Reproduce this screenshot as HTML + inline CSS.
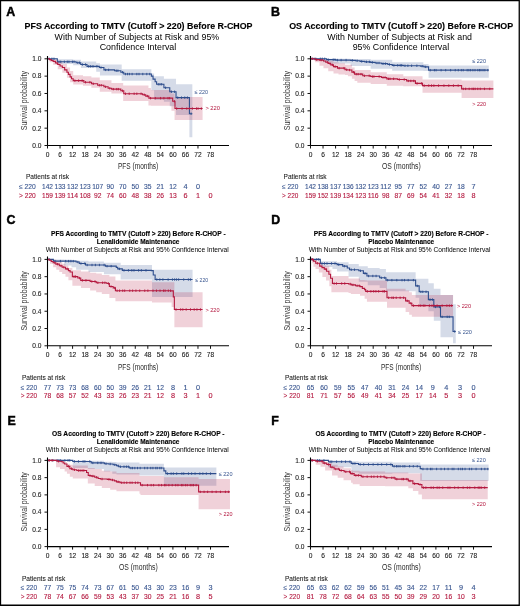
<!DOCTYPE html>
<html><head><meta charset="utf-8"><style>
html,body{margin:0;padding:0;background:#fff;}
svg{display:block;font-family:"Liberation Sans",sans-serif;will-change:transform;}
</style></head><body>
<svg width="520" height="606" viewBox="0 0 520 606" font-family="Liberation Sans, sans-serif"><rect x="0" y="0" width="520" height="606" fill="#fff"/>
<text x="6.20" y="15.90" font-size="12.4" fill="#000" font-weight="bold" text-anchor="start" stroke="#000" stroke-width="0.45">A</text>
<text x="24.60" y="29.30" font-size="8.6" fill="#000" font-weight="bold" text-anchor="start" textLength="227.90" lengthAdjust="spacingAndGlyphs" stroke="#000" stroke-width="0.12">PFS According to TMTV (Cutoff &gt; 220) Before R-CHOP</text>
<text x="54.60" y="40.00" font-size="8.6" fill="#000" font-weight="normal" text-anchor="start" textLength="164.60" lengthAdjust="spacingAndGlyphs">With Number of Subjects at Risk and 95%</text>
<text x="99.70" y="49.60" font-size="8.6" fill="#000" font-weight="normal" text-anchor="start" textLength="76.60" lengthAdjust="spacingAndGlyphs">Confidence Interval</text>
<path d="M47.50,58.80 V58.80 H57.32 V59.23 H73.21 V59.67 H80.94 V61.40 H96.20 V63.14 H99.96 V64.61 H121.69 V69.20 H151.37 V73.54 H154.09 V76.14 H163.91 V78.74 H169.76 V78.74 H176.03 V84.29 H189.41 V84.29 H192.34 V137.26 H189.41 V114.89 H176.03 V106.31 H169.76 V101.63 H163.91 V99.90 H154.09 V90.27 H151.37 V80.82 H121.69 V75.62 H99.96 V71.80 H96.20 V68.08 H80.94 V65.30 H73.21 V64.00 H57.32 V60.10 H47.50 Z" fill="#2d4d8c" fill-opacity="0.2"/>
<path d="M47.50,58.80 V58.80 H49.59 V59.23 H53.14 V59.67 H57.74 V61.40 H62.34 V64.00 H66.94 V67.47 H70.07 V70.94 H73.21 V75.27 H83.03 V76.14 H91.39 V77.44 H99.75 V80.21 H111.45 V83.08 H123.16 V85.42 H148.45 V87.93 H150.95 V90.10 H171.44 V93.48 H174.57 V97.03 H202.58 V120.10 H174.57 V110.82 H171.44 V105.70 H150.95 V105.62 H148.45 V101.02 H123.16 V93.48 H111.45 V91.75 H99.75 V87.84 H91.39 V85.68 H83.03 V84.38 H73.21 V82.21 H70.07 V77.87 H66.94 V72.67 H62.34 V69.20 H57.74 V64.87 H53.14 V62.27 H49.59 V59.67 H47.50 Z" fill="#b4193f" fill-opacity="0.2"/>
<path d="M47.50,58.80 V58.80 H57.32 V61.75 H76.13 V62.70 H80.73 V64.52 H87.00 V66.34 H99.33 V67.56 H103.93 V69.90 H114.59 V70.68 H120.86 V72.24 H123.78 V74.06 H151.37 V76.14 H153.04 V79.09 H155.13 V81.78 H156.60 V84.29 H163.91 V87.76 H169.76 V91.75 H176.03 V97.64 H189.41 V113.68 H192.34" stroke="#2d4d8c" stroke-width="1.1" fill="none" stroke-linejoin="miter"/>
<path d="M49.17,57.60V60.00M51.92,57.60V60.00M53.98,57.60V60.00M58.99,60.55V62.95M60.75,60.55V62.95M64.34,60.55V62.95M67.25,60.55V62.95M68.95,60.55V62.95M72.42,60.55V62.95M74.04,60.55V62.95M77.81,61.50V63.90M79.55,61.50V63.90M82.40,63.32V65.72M85.55,63.32V65.72M88.67,65.14V67.54M90.63,65.14V67.54M92.98,65.14V67.54M96.93,65.14V67.54M101.00,66.36V68.76M105.60,68.70V71.10M108.64,68.70V71.10M116.26,69.48V71.88M117.91,69.48V71.88M122.53,71.04V73.44M125.46,72.86V75.26M127.49,72.86V75.26M129.42,72.86V75.26M132.11,72.86V75.26M136.82,72.86V75.26M139.00,72.86V75.26M142.77,72.86V75.26M146.77,72.86V75.26M149.71,72.86V75.26M158.27,83.09V85.49M159.98,83.09V85.49M161.68,83.09V85.49M165.58,86.56V88.96M171.44,90.55V92.95M174.60,90.55V92.95M177.71,96.44V98.84M181.50,96.44V98.84M184.76,96.44V98.84M187.41,96.44V98.84M191.08,112.48V114.88" stroke="#2d4d8c" stroke-width="0.9" fill="none"/>
<path d="M47.50,58.80 V58.80 H49.59 V59.67 H51.26 V60.53 H53.14 V61.40 H55.44 V62.96 H57.74 V64.52 H60.04 V66.00 H62.34 V67.56 H64.64 V69.90 H66.94 V72.24 H68.40 V74.41 H70.07 V76.83 H71.53 V78.74 H73.21 V80.65 H83.87 V82.21 H91.60 V83.77 H97.66 V85.24 H103.93 V86.80 H108.11 V88.28 H111.66 V89.14 H120.86 V90.71 H123.78 V93.74 H142.59 V94.78 H145.73 V96.08 H148.87 V98.16 H172.69 V101.28 H174.99 V108.57 H202.58" stroke="#b4193f" stroke-width="1.1" fill="none" stroke-linejoin="miter"/>
<path d="M57.11,61.76V64.16M74.88,79.45V81.85M78.62,79.45V81.85M82.17,79.45V81.85M85.54,81.01V83.41M89.90,81.01V83.41M93.27,82.57V84.97M99.33,84.04V86.44M101.26,84.04V86.44M105.60,85.60V88.00M109.78,87.08V89.48M113.33,87.94V90.34M116.74,87.94V90.34M118.36,87.94V90.34M122.53,89.51V91.91M125.46,92.54V94.94M129.20,92.54V94.94M134.14,92.54V94.94M136.84,92.54V94.94M141.07,92.54V94.94M144.27,93.58V95.98M147.40,94.88V97.28M150.54,96.96V99.36M155.34,96.96V99.36M160.55,96.96V99.36M163.90,96.96V99.36M168.00,96.96V99.36M169.70,96.96V99.36M174.36,100.08V102.48M176.66,107.37V109.77M182.07,107.37V109.77M186.80,107.37V109.77M189.39,107.37V109.77M192.38,107.37V109.77M196.50,107.37V109.77M198.05,107.37V109.77M201.35,107.37V109.77" stroke="#b4193f" stroke-width="0.9" fill="none"/>
<path d="M47.50,55.90 V145.50 H229.00" stroke="#000" stroke-width="1.1" fill="none"/>
<text x="41.50" y="147.85" font-size="6.6" fill="#1a1a1a" font-weight="normal" text-anchor="end" stroke="#1a1a1a" stroke-width="0.1">0.0</text>
<text x="41.50" y="130.51" font-size="6.6" fill="#1a1a1a" font-weight="normal" text-anchor="end" stroke="#1a1a1a" stroke-width="0.1">0.2</text>
<text x="41.50" y="113.17" font-size="6.6" fill="#1a1a1a" font-weight="normal" text-anchor="end" stroke="#1a1a1a" stroke-width="0.1">0.4</text>
<text x="41.50" y="95.83" font-size="6.6" fill="#1a1a1a" font-weight="normal" text-anchor="end" stroke="#1a1a1a" stroke-width="0.1">0.6</text>
<text x="41.50" y="78.49" font-size="6.6" fill="#1a1a1a" font-weight="normal" text-anchor="end" stroke="#1a1a1a" stroke-width="0.1">0.8</text>
<text x="41.50" y="61.15" font-size="6.6" fill="#1a1a1a" font-weight="normal" text-anchor="end" stroke="#1a1a1a" stroke-width="0.1">1.0</text>
<text x="47.50" y="157.10" font-size="6.6" fill="#1a1a1a" font-weight="normal" text-anchor="middle" stroke="#1a1a1a" stroke-width="0.1">0</text>
<text x="60.04" y="157.10" font-size="6.6" fill="#1a1a1a" font-weight="normal" text-anchor="middle" stroke="#1a1a1a" stroke-width="0.1">6</text>
<text x="72.58" y="157.10" font-size="6.6" fill="#1a1a1a" font-weight="normal" text-anchor="middle" stroke="#1a1a1a" stroke-width="0.1">12</text>
<text x="85.12" y="157.10" font-size="6.6" fill="#1a1a1a" font-weight="normal" text-anchor="middle" stroke="#1a1a1a" stroke-width="0.1">18</text>
<text x="97.66" y="157.10" font-size="6.6" fill="#1a1a1a" font-weight="normal" text-anchor="middle" stroke="#1a1a1a" stroke-width="0.1">24</text>
<text x="110.20" y="157.10" font-size="6.6" fill="#1a1a1a" font-weight="normal" text-anchor="middle" stroke="#1a1a1a" stroke-width="0.1">30</text>
<text x="122.74" y="157.10" font-size="6.6" fill="#1a1a1a" font-weight="normal" text-anchor="middle" stroke="#1a1a1a" stroke-width="0.1">36</text>
<text x="135.28" y="157.10" font-size="6.6" fill="#1a1a1a" font-weight="normal" text-anchor="middle" stroke="#1a1a1a" stroke-width="0.1">42</text>
<text x="147.82" y="157.10" font-size="6.6" fill="#1a1a1a" font-weight="normal" text-anchor="middle" stroke="#1a1a1a" stroke-width="0.1">48</text>
<text x="160.36" y="157.10" font-size="6.6" fill="#1a1a1a" font-weight="normal" text-anchor="middle" stroke="#1a1a1a" stroke-width="0.1">54</text>
<text x="172.90" y="157.10" font-size="6.6" fill="#1a1a1a" font-weight="normal" text-anchor="middle" stroke="#1a1a1a" stroke-width="0.1">60</text>
<text x="185.44" y="157.10" font-size="6.6" fill="#1a1a1a" font-weight="normal" text-anchor="middle" stroke="#1a1a1a" stroke-width="0.1">66</text>
<text x="197.98" y="157.10" font-size="6.6" fill="#1a1a1a" font-weight="normal" text-anchor="middle" stroke="#1a1a1a" stroke-width="0.1">72</text>
<text x="210.52" y="157.10" font-size="6.6" fill="#1a1a1a" font-weight="normal" text-anchor="middle" stroke="#1a1a1a" stroke-width="0.1">78</text>
<path d="M44.50,145.50H47.50M44.50,128.16H47.50M44.50,110.82H47.50M44.50,93.48H47.50M44.50,76.14H47.50M44.50,58.80H47.50M47.50,145.50V148.50M60.04,145.50V148.50M72.58,145.50V148.50M85.12,145.50V148.50M97.66,145.50V148.50M110.20,145.50V148.50M122.74,145.50V148.50M135.28,145.50V148.50M147.82,145.50V148.50M160.36,145.50V148.50M172.90,145.50V148.50M185.44,145.50V148.50M197.98,145.50V148.50M210.52,145.50V148.50" stroke="#111" stroke-width="1" fill="none"/>
<text x="118.00" y="169.20" font-size="8.4" fill="#2a2a2a" font-weight="normal" text-anchor="start" textLength="40.30" lengthAdjust="spacingAndGlyphs">PFS (months)</text>
<text x="0" y="0" font-size="8.8" fill="#333" text-anchor="middle" textLength="59.3" lengthAdjust="spacingAndGlyphs" transform="translate(27.20,100.65) rotate(-90)">Survival probability</text>
<text x="194.40" y="93.90" font-size="6.0" fill="#38558f" font-weight="normal" text-anchor="start" textLength="13.60" lengthAdjust="spacingAndGlyphs">≤ 220</text>
<text x="205.40" y="110.20" font-size="6.0" fill="#b3173e" font-weight="normal" text-anchor="start" textLength="14.60" lengthAdjust="spacingAndGlyphs">&gt; 220</text>
<text x="26.00" y="179.40" font-size="6.6" fill="#222" font-weight="normal" text-anchor="start" textLength="43.00" lengthAdjust="spacingAndGlyphs" stroke="#222" stroke-width="0.08">Patients at risk</text>
<text x="19.00" y="188.80" font-size="7" fill="#38558f" font-weight="normal" text-anchor="start" textLength="16.80" lengthAdjust="spacingAndGlyphs" stroke="#38558f" stroke-width="0.1">≤ 220</text>
<text x="19.00" y="197.60" font-size="7" fill="#b3173e" font-weight="normal" text-anchor="start" textLength="16.80" lengthAdjust="spacingAndGlyphs" stroke="#b3173e" stroke-width="0.1">&gt; 220</text>
<text x="47.50" y="188.80" font-size="7.3" fill="#38558f" font-weight="normal" text-anchor="middle" textLength="10.95" lengthAdjust="spacingAndGlyphs" stroke="#38558f" stroke-width="0.12">142</text>
<text x="60.04" y="188.80" font-size="7.3" fill="#38558f" font-weight="normal" text-anchor="middle" textLength="10.95" lengthAdjust="spacingAndGlyphs" stroke="#38558f" stroke-width="0.12">133</text>
<text x="72.58" y="188.80" font-size="7.3" fill="#38558f" font-weight="normal" text-anchor="middle" textLength="10.95" lengthAdjust="spacingAndGlyphs" stroke="#38558f" stroke-width="0.12">132</text>
<text x="85.12" y="188.80" font-size="7.3" fill="#38558f" font-weight="normal" text-anchor="middle" textLength="10.95" lengthAdjust="spacingAndGlyphs" stroke="#38558f" stroke-width="0.12">123</text>
<text x="97.66" y="188.80" font-size="7.3" fill="#38558f" font-weight="normal" text-anchor="middle" textLength="10.95" lengthAdjust="spacingAndGlyphs" stroke="#38558f" stroke-width="0.12">107</text>
<text x="110.20" y="188.80" font-size="7.3" fill="#38558f" font-weight="normal" text-anchor="middle" textLength="7.50" lengthAdjust="spacingAndGlyphs" stroke="#38558f" stroke-width="0.12">90</text>
<text x="122.74" y="188.80" font-size="7.3" fill="#38558f" font-weight="normal" text-anchor="middle" textLength="7.50" lengthAdjust="spacingAndGlyphs" stroke="#38558f" stroke-width="0.12">70</text>
<text x="135.28" y="188.80" font-size="7.3" fill="#38558f" font-weight="normal" text-anchor="middle" textLength="7.50" lengthAdjust="spacingAndGlyphs" stroke="#38558f" stroke-width="0.12">50</text>
<text x="147.82" y="188.80" font-size="7.3" fill="#38558f" font-weight="normal" text-anchor="middle" textLength="7.50" lengthAdjust="spacingAndGlyphs" stroke="#38558f" stroke-width="0.12">35</text>
<text x="160.36" y="188.80" font-size="7.3" fill="#38558f" font-weight="normal" text-anchor="middle" textLength="7.50" lengthAdjust="spacingAndGlyphs" stroke="#38558f" stroke-width="0.12">21</text>
<text x="172.90" y="188.80" font-size="7.3" fill="#38558f" font-weight="normal" text-anchor="middle" textLength="7.50" lengthAdjust="spacingAndGlyphs" stroke="#38558f" stroke-width="0.12">12</text>
<text x="185.44" y="188.80" font-size="7.3" fill="#38558f" font-weight="normal" text-anchor="middle" textLength="4.05" lengthAdjust="spacingAndGlyphs" stroke="#38558f" stroke-width="0.12">4</text>
<text x="197.98" y="188.80" font-size="7.3" fill="#38558f" font-weight="normal" text-anchor="middle" textLength="4.05" lengthAdjust="spacingAndGlyphs" stroke="#38558f" stroke-width="0.12">0</text>
<text x="47.50" y="197.60" font-size="7.3" fill="#b3173e" font-weight="normal" text-anchor="middle" textLength="10.95" lengthAdjust="spacingAndGlyphs" stroke="#b3173e" stroke-width="0.12">159</text>
<text x="60.04" y="197.60" font-size="7.3" fill="#b3173e" font-weight="normal" text-anchor="middle" textLength="10.95" lengthAdjust="spacingAndGlyphs" stroke="#b3173e" stroke-width="0.12">139</text>
<text x="72.58" y="197.60" font-size="7.3" fill="#b3173e" font-weight="normal" text-anchor="middle" textLength="10.95" lengthAdjust="spacingAndGlyphs" stroke="#b3173e" stroke-width="0.12">114</text>
<text x="85.12" y="197.60" font-size="7.3" fill="#b3173e" font-weight="normal" text-anchor="middle" textLength="10.95" lengthAdjust="spacingAndGlyphs" stroke="#b3173e" stroke-width="0.12">108</text>
<text x="97.66" y="197.60" font-size="7.3" fill="#b3173e" font-weight="normal" text-anchor="middle" textLength="7.50" lengthAdjust="spacingAndGlyphs" stroke="#b3173e" stroke-width="0.12">92</text>
<text x="110.20" y="197.60" font-size="7.3" fill="#b3173e" font-weight="normal" text-anchor="middle" textLength="7.50" lengthAdjust="spacingAndGlyphs" stroke="#b3173e" stroke-width="0.12">74</text>
<text x="122.74" y="197.60" font-size="7.3" fill="#b3173e" font-weight="normal" text-anchor="middle" textLength="7.50" lengthAdjust="spacingAndGlyphs" stroke="#b3173e" stroke-width="0.12">60</text>
<text x="135.28" y="197.60" font-size="7.3" fill="#b3173e" font-weight="normal" text-anchor="middle" textLength="7.50" lengthAdjust="spacingAndGlyphs" stroke="#b3173e" stroke-width="0.12">48</text>
<text x="147.82" y="197.60" font-size="7.3" fill="#b3173e" font-weight="normal" text-anchor="middle" textLength="7.50" lengthAdjust="spacingAndGlyphs" stroke="#b3173e" stroke-width="0.12">38</text>
<text x="160.36" y="197.60" font-size="7.3" fill="#b3173e" font-weight="normal" text-anchor="middle" textLength="7.50" lengthAdjust="spacingAndGlyphs" stroke="#b3173e" stroke-width="0.12">26</text>
<text x="172.90" y="197.60" font-size="7.3" fill="#b3173e" font-weight="normal" text-anchor="middle" textLength="7.50" lengthAdjust="spacingAndGlyphs" stroke="#b3173e" stroke-width="0.12">13</text>
<text x="185.44" y="197.60" font-size="7.3" fill="#b3173e" font-weight="normal" text-anchor="middle" textLength="4.05" lengthAdjust="spacingAndGlyphs" stroke="#b3173e" stroke-width="0.12">6</text>
<text x="197.98" y="197.60" font-size="7.3" fill="#b3173e" font-weight="normal" text-anchor="middle" textLength="4.05" lengthAdjust="spacingAndGlyphs" stroke="#b3173e" stroke-width="0.12">1</text>
<text x="210.52" y="197.60" font-size="7.3" fill="#b3173e" font-weight="normal" text-anchor="middle" textLength="4.05" lengthAdjust="spacingAndGlyphs" stroke="#b3173e" stroke-width="0.12">0</text>
<text x="271.10" y="15.90" font-size="12.4" fill="#000" font-weight="bold" text-anchor="start" stroke="#000" stroke-width="0.45">B</text>
<text x="289.20" y="29.30" font-size="8.6" fill="#000" font-weight="bold" text-anchor="start" textLength="224.00" lengthAdjust="spacingAndGlyphs" stroke="#000" stroke-width="0.12">OS According to TMTV (Cutoff &gt; 220) Before R-CHOP</text>
<text x="327.30" y="40.00" font-size="8.6" fill="#000" font-weight="normal" text-anchor="start" textLength="144.70" lengthAdjust="spacingAndGlyphs">With Number of Subjects at Risk and</text>
<text x="352.70" y="49.60" font-size="8.6" fill="#000" font-weight="normal" text-anchor="start" textLength="96.50" lengthAdjust="spacingAndGlyphs">95% Confidence Interval</text>
<path d="M310.50,58.80 V58.80 H315.10 V58.80 H323.04 V58.80 H328.26 V58.80 H350.63 V58.97 H370.69 V59.67 H392.22 V62.27 H423.36 V64.00 H428.58 V65.48 H488.78 V77.87 H428.58 V70.94 H423.36 V70.76 H392.22 V68.77 H370.69 V66.08 H350.63 V63.57 H328.26 V62.27 H323.04 V60.53 H315.10 V59.23 H310.50 Z" fill="#2d4d8c" fill-opacity="0.2"/>
<path d="M310.50,58.80 V58.80 H315.10 V58.80 H319.49 V59.23 H323.46 V59.67 H328.26 V60.71 H333.49 V62.27 H338.51 V63.14 H344.99 V64.87 H347.91 V64.87 H351.88 V67.47 H354.60 V70.07 H357.32 V70.07 H370.69 V72.15 H386.78 V74.15 H403.30 V76.14 H422.52 V79.61 H461.61 V80.47 H493.38 V97.99 H461.61 V92.87 H422.52 V86.28 H403.30 V85.68 H386.78 V84.12 H370.69 V82.64 H357.32 V80.91 H354.60 V78.74 H351.88 V76.14 H347.91 V75.10 H344.99 V74.41 H338.51 V73.54 H333.49 V71.20 H328.26 V68.34 H323.46 V65.74 H319.49 V62.27 H315.10 V59.67 H310.50 Z" fill="#b4193f" fill-opacity="0.2"/>
<path d="M310.50,58.80 V58.80 H326.59 V59.67 H335.79 V60.10 H350.63 V60.36 H355.44 V60.71 H360.03 V61.40 H364.84 V61.83 H370.69 V62.35 H375.29 V62.96 H381.35 V63.66 H387.83 V64.44 H392.22 V65.39 H403.30 V65.74 H420.43 V66.17 H423.99 V66.86 H428.58 V70.16 H488.78" stroke="#2d4d8c" stroke-width="1.1" fill="none" stroke-linejoin="miter"/>
<path d="M312.17,57.60V60.00M314.10,57.60V60.00M315.80,57.60V60.00M320.31,57.60V60.00M322.29,57.60V60.00M324.73,57.60V60.00M328.26,58.47V60.87M333.19,58.47V60.87M334.97,58.47V60.87M337.46,58.90V61.30M341.11,58.90V61.30M346.08,58.90V61.30M352.30,59.16V61.56M357.11,59.51V61.91M361.70,60.20V62.60M366.51,60.63V63.03M369.40,60.63V63.03M372.36,61.15V63.55M376.96,61.76V64.16M379.02,61.76V64.16M383.02,62.46V64.86M385.41,62.46V64.86M389.50,63.24V65.64M393.89,64.19V66.59M397.69,64.19V66.59M400.20,64.19V66.59M401.68,64.19V66.59M404.97,64.54V66.94M407.90,64.54V66.94M411.61,64.54V66.94M416.86,64.54V66.94M422.11,64.97V67.37M425.66,65.66V68.06M430.26,68.96V71.36M434.41,68.96V71.36M436.08,68.96V71.36M441.12,68.96V71.36M445.68,68.96V71.36M450.61,68.96V71.36M455.24,68.96V71.36M458.27,68.96V71.36M461.31,68.96V71.36M463.19,68.96V71.36M467.17,68.96V71.36M468.88,68.96V71.36M470.61,68.96V71.36M472.90,68.96V71.36M475.01,68.96V71.36M477.82,68.96V71.36M479.49,68.96V71.36M480.96,68.96V71.36M483.02,68.96V71.36M484.89,68.96V71.36M487.80,68.96V71.36" stroke="#2d4d8c" stroke-width="0.9" fill="none"/>
<path d="M310.50,58.80 V58.80 H315.10 V59.67 H319.49 V60.10 H323.46 V60.97 H325.76 V62.27 H328.26 V63.48 H330.77 V64.87 H333.49 V66.60 H337.46 V68.16 H344.99 V69.72 H347.91 V70.07 H351.88 V72.15 H354.60 V74.15 H362.75 V75.79 H370.69 V76.57 H381.35 V77.44 H386.78 V78.83 H397.65 V79.52 H406.64 V80.91 H415.42 V83.42 H422.52 V85.59 H461.61 V88.88 H493.38" stroke="#b4193f" stroke-width="1.1" fill="none" stroke-linejoin="miter"/>
<path d="M312.17,57.60V60.00M316.77,58.47V60.87M321.16,58.90V61.30M327.43,61.07V63.47M329.94,62.28V64.68M332.44,63.67V66.07M335.16,65.40V67.80M339.13,66.96V69.36M343.97,66.96V69.36M346.66,68.52V70.92M349.58,68.87V71.27M353.55,70.95V73.35M356.27,72.95V75.35M358.14,72.95V75.35M360.96,72.95V75.35M364.42,74.59V76.99M369.18,74.59V76.99M372.36,75.37V77.77M373.92,75.37V77.77M379.16,75.37V77.77M383.02,76.24V78.64M385.07,76.24V78.64M388.46,77.63V80.03M390.03,77.63V80.03M393.59,77.63V80.03M399.32,78.32V80.72M404.22,78.32V80.72M408.31,79.71V82.11M410.81,79.71V82.11M413.73,79.71V82.11M417.09,82.22V84.62M421.62,82.22V84.62M424.20,84.39V86.79M428.75,84.39V86.79M431.52,84.39V86.79M433.87,84.39V86.79M438.56,84.39V86.79M443.93,84.39V86.79M448.78,84.39V86.79M453.45,84.39V86.79M458.16,84.39V86.79M463.28,87.68V90.08M465.64,87.68V90.08M469.16,87.68V90.08M472.04,87.68V90.08M473.61,87.68V90.08M475.19,87.68V90.08M477.76,87.68V90.08M480.25,87.68V90.08M484.47,87.68V90.08M489.73,87.68V90.08" stroke="#b4193f" stroke-width="0.9" fill="none"/>
<path d="M310.50,55.90 V145.50 H492.00" stroke="#000" stroke-width="1.1" fill="none"/>
<text x="304.50" y="147.85" font-size="6.6" fill="#1a1a1a" font-weight="normal" text-anchor="end" stroke="#1a1a1a" stroke-width="0.1">0.0</text>
<text x="304.50" y="130.51" font-size="6.6" fill="#1a1a1a" font-weight="normal" text-anchor="end" stroke="#1a1a1a" stroke-width="0.1">0.2</text>
<text x="304.50" y="113.17" font-size="6.6" fill="#1a1a1a" font-weight="normal" text-anchor="end" stroke="#1a1a1a" stroke-width="0.1">0.4</text>
<text x="304.50" y="95.83" font-size="6.6" fill="#1a1a1a" font-weight="normal" text-anchor="end" stroke="#1a1a1a" stroke-width="0.1">0.6</text>
<text x="304.50" y="78.49" font-size="6.6" fill="#1a1a1a" font-weight="normal" text-anchor="end" stroke="#1a1a1a" stroke-width="0.1">0.8</text>
<text x="304.50" y="61.15" font-size="6.6" fill="#1a1a1a" font-weight="normal" text-anchor="end" stroke="#1a1a1a" stroke-width="0.1">1.0</text>
<text x="310.50" y="157.10" font-size="6.6" fill="#1a1a1a" font-weight="normal" text-anchor="middle" stroke="#1a1a1a" stroke-width="0.1">0</text>
<text x="323.04" y="157.10" font-size="6.6" fill="#1a1a1a" font-weight="normal" text-anchor="middle" stroke="#1a1a1a" stroke-width="0.1">6</text>
<text x="335.58" y="157.10" font-size="6.6" fill="#1a1a1a" font-weight="normal" text-anchor="middle" stroke="#1a1a1a" stroke-width="0.1">12</text>
<text x="348.12" y="157.10" font-size="6.6" fill="#1a1a1a" font-weight="normal" text-anchor="middle" stroke="#1a1a1a" stroke-width="0.1">18</text>
<text x="360.66" y="157.10" font-size="6.6" fill="#1a1a1a" font-weight="normal" text-anchor="middle" stroke="#1a1a1a" stroke-width="0.1">24</text>
<text x="373.20" y="157.10" font-size="6.6" fill="#1a1a1a" font-weight="normal" text-anchor="middle" stroke="#1a1a1a" stroke-width="0.1">30</text>
<text x="385.74" y="157.10" font-size="6.6" fill="#1a1a1a" font-weight="normal" text-anchor="middle" stroke="#1a1a1a" stroke-width="0.1">36</text>
<text x="398.28" y="157.10" font-size="6.6" fill="#1a1a1a" font-weight="normal" text-anchor="middle" stroke="#1a1a1a" stroke-width="0.1">42</text>
<text x="410.82" y="157.10" font-size="6.6" fill="#1a1a1a" font-weight="normal" text-anchor="middle" stroke="#1a1a1a" stroke-width="0.1">48</text>
<text x="423.36" y="157.10" font-size="6.6" fill="#1a1a1a" font-weight="normal" text-anchor="middle" stroke="#1a1a1a" stroke-width="0.1">54</text>
<text x="435.90" y="157.10" font-size="6.6" fill="#1a1a1a" font-weight="normal" text-anchor="middle" stroke="#1a1a1a" stroke-width="0.1">60</text>
<text x="448.44" y="157.10" font-size="6.6" fill="#1a1a1a" font-weight="normal" text-anchor="middle" stroke="#1a1a1a" stroke-width="0.1">66</text>
<text x="460.98" y="157.10" font-size="6.6" fill="#1a1a1a" font-weight="normal" text-anchor="middle" stroke="#1a1a1a" stroke-width="0.1">72</text>
<text x="473.52" y="157.10" font-size="6.6" fill="#1a1a1a" font-weight="normal" text-anchor="middle" stroke="#1a1a1a" stroke-width="0.1">78</text>
<path d="M307.50,145.50H310.50M307.50,128.16H310.50M307.50,110.82H310.50M307.50,93.48H310.50M307.50,76.14H310.50M307.50,58.80H310.50M310.50,145.50V148.50M323.04,145.50V148.50M335.58,145.50V148.50M348.12,145.50V148.50M360.66,145.50V148.50M373.20,145.50V148.50M385.74,145.50V148.50M398.28,145.50V148.50M410.82,145.50V148.50M423.36,145.50V148.50M435.90,145.50V148.50M448.44,145.50V148.50M460.98,145.50V148.50M473.52,145.50V148.50" stroke="#111" stroke-width="1" fill="none"/>
<text x="382.00" y="169.20" font-size="8.4" fill="#2a2a2a" font-weight="normal" text-anchor="start" textLength="38.70" lengthAdjust="spacingAndGlyphs">OS (months)</text>
<text x="0" y="0" font-size="8.8" fill="#333" text-anchor="middle" textLength="59.3" lengthAdjust="spacingAndGlyphs" transform="translate(290.20,100.65) rotate(-90)">Survival probability</text>
<text x="472.20" y="63.00" font-size="6.0" fill="#38558f" font-weight="normal" text-anchor="start" textLength="13.80" lengthAdjust="spacingAndGlyphs">≤ 220</text>
<text x="472.20" y="105.50" font-size="6.0" fill="#b3173e" font-weight="normal" text-anchor="start" textLength="13.80" lengthAdjust="spacingAndGlyphs">&gt; 220</text>
<text x="283.60" y="179.40" font-size="6.6" fill="#222" font-weight="normal" text-anchor="start" textLength="42.90" lengthAdjust="spacingAndGlyphs" stroke="#222" stroke-width="0.08">Patients at risk</text>
<text x="282.10" y="188.80" font-size="7" fill="#38558f" font-weight="normal" text-anchor="start" textLength="16.20" lengthAdjust="spacingAndGlyphs" stroke="#38558f" stroke-width="0.1">≤ 220</text>
<text x="282.10" y="197.60" font-size="7" fill="#b3173e" font-weight="normal" text-anchor="start" textLength="16.20" lengthAdjust="spacingAndGlyphs" stroke="#b3173e" stroke-width="0.1">&gt; 220</text>
<text x="310.50" y="188.80" font-size="7.3" fill="#38558f" font-weight="normal" text-anchor="middle" textLength="10.95" lengthAdjust="spacingAndGlyphs" stroke="#38558f" stroke-width="0.12">142</text>
<text x="323.04" y="188.80" font-size="7.3" fill="#38558f" font-weight="normal" text-anchor="middle" textLength="10.95" lengthAdjust="spacingAndGlyphs" stroke="#38558f" stroke-width="0.12">138</text>
<text x="335.58" y="188.80" font-size="7.3" fill="#38558f" font-weight="normal" text-anchor="middle" textLength="10.95" lengthAdjust="spacingAndGlyphs" stroke="#38558f" stroke-width="0.12">137</text>
<text x="348.12" y="188.80" font-size="7.3" fill="#38558f" font-weight="normal" text-anchor="middle" textLength="10.95" lengthAdjust="spacingAndGlyphs" stroke="#38558f" stroke-width="0.12">136</text>
<text x="360.66" y="188.80" font-size="7.3" fill="#38558f" font-weight="normal" text-anchor="middle" textLength="10.95" lengthAdjust="spacingAndGlyphs" stroke="#38558f" stroke-width="0.12">132</text>
<text x="373.20" y="188.80" font-size="7.3" fill="#38558f" font-weight="normal" text-anchor="middle" textLength="10.95" lengthAdjust="spacingAndGlyphs" stroke="#38558f" stroke-width="0.12">123</text>
<text x="385.74" y="188.80" font-size="7.3" fill="#38558f" font-weight="normal" text-anchor="middle" textLength="10.95" lengthAdjust="spacingAndGlyphs" stroke="#38558f" stroke-width="0.12">112</text>
<text x="398.28" y="188.80" font-size="7.3" fill="#38558f" font-weight="normal" text-anchor="middle" textLength="7.50" lengthAdjust="spacingAndGlyphs" stroke="#38558f" stroke-width="0.12">95</text>
<text x="410.82" y="188.80" font-size="7.3" fill="#38558f" font-weight="normal" text-anchor="middle" textLength="7.50" lengthAdjust="spacingAndGlyphs" stroke="#38558f" stroke-width="0.12">77</text>
<text x="423.36" y="188.80" font-size="7.3" fill="#38558f" font-weight="normal" text-anchor="middle" textLength="7.50" lengthAdjust="spacingAndGlyphs" stroke="#38558f" stroke-width="0.12">52</text>
<text x="435.90" y="188.80" font-size="7.3" fill="#38558f" font-weight="normal" text-anchor="middle" textLength="7.50" lengthAdjust="spacingAndGlyphs" stroke="#38558f" stroke-width="0.12">40</text>
<text x="448.44" y="188.80" font-size="7.3" fill="#38558f" font-weight="normal" text-anchor="middle" textLength="7.50" lengthAdjust="spacingAndGlyphs" stroke="#38558f" stroke-width="0.12">27</text>
<text x="460.98" y="188.80" font-size="7.3" fill="#38558f" font-weight="normal" text-anchor="middle" textLength="7.50" lengthAdjust="spacingAndGlyphs" stroke="#38558f" stroke-width="0.12">18</text>
<text x="473.52" y="188.80" font-size="7.3" fill="#38558f" font-weight="normal" text-anchor="middle" textLength="4.05" lengthAdjust="spacingAndGlyphs" stroke="#38558f" stroke-width="0.12">7</text>
<text x="310.50" y="197.60" font-size="7.3" fill="#b3173e" font-weight="normal" text-anchor="middle" textLength="10.95" lengthAdjust="spacingAndGlyphs" stroke="#b3173e" stroke-width="0.12">159</text>
<text x="323.04" y="197.60" font-size="7.3" fill="#b3173e" font-weight="normal" text-anchor="middle" textLength="10.95" lengthAdjust="spacingAndGlyphs" stroke="#b3173e" stroke-width="0.12">152</text>
<text x="335.58" y="197.60" font-size="7.3" fill="#b3173e" font-weight="normal" text-anchor="middle" textLength="10.95" lengthAdjust="spacingAndGlyphs" stroke="#b3173e" stroke-width="0.12">139</text>
<text x="348.12" y="197.60" font-size="7.3" fill="#b3173e" font-weight="normal" text-anchor="middle" textLength="10.95" lengthAdjust="spacingAndGlyphs" stroke="#b3173e" stroke-width="0.12">134</text>
<text x="360.66" y="197.60" font-size="7.3" fill="#b3173e" font-weight="normal" text-anchor="middle" textLength="10.95" lengthAdjust="spacingAndGlyphs" stroke="#b3173e" stroke-width="0.12">123</text>
<text x="373.20" y="197.60" font-size="7.3" fill="#b3173e" font-weight="normal" text-anchor="middle" textLength="10.95" lengthAdjust="spacingAndGlyphs" stroke="#b3173e" stroke-width="0.12">116</text>
<text x="385.74" y="197.60" font-size="7.3" fill="#b3173e" font-weight="normal" text-anchor="middle" textLength="7.50" lengthAdjust="spacingAndGlyphs" stroke="#b3173e" stroke-width="0.12">98</text>
<text x="398.28" y="197.60" font-size="7.3" fill="#b3173e" font-weight="normal" text-anchor="middle" textLength="7.50" lengthAdjust="spacingAndGlyphs" stroke="#b3173e" stroke-width="0.12">87</text>
<text x="410.82" y="197.60" font-size="7.3" fill="#b3173e" font-weight="normal" text-anchor="middle" textLength="7.50" lengthAdjust="spacingAndGlyphs" stroke="#b3173e" stroke-width="0.12">69</text>
<text x="423.36" y="197.60" font-size="7.3" fill="#b3173e" font-weight="normal" text-anchor="middle" textLength="7.50" lengthAdjust="spacingAndGlyphs" stroke="#b3173e" stroke-width="0.12">54</text>
<text x="435.90" y="197.60" font-size="7.3" fill="#b3173e" font-weight="normal" text-anchor="middle" textLength="7.50" lengthAdjust="spacingAndGlyphs" stroke="#b3173e" stroke-width="0.12">41</text>
<text x="448.44" y="197.60" font-size="7.3" fill="#b3173e" font-weight="normal" text-anchor="middle" textLength="7.50" lengthAdjust="spacingAndGlyphs" stroke="#b3173e" stroke-width="0.12">32</text>
<text x="460.98" y="197.60" font-size="7.3" fill="#b3173e" font-weight="normal" text-anchor="middle" textLength="7.50" lengthAdjust="spacingAndGlyphs" stroke="#b3173e" stroke-width="0.12">18</text>
<text x="473.52" y="197.60" font-size="7.3" fill="#b3173e" font-weight="normal" text-anchor="middle" textLength="4.05" lengthAdjust="spacingAndGlyphs" stroke="#b3173e" stroke-width="0.12">8</text>
<text x="6.60" y="224.30" font-size="12.4" fill="#000" font-weight="bold" text-anchor="start" stroke="#000" stroke-width="0.45">C</text>
<text x="51.00" y="235.80" font-size="6.5" fill="#000" font-weight="bold" text-anchor="start" textLength="174.60" lengthAdjust="spacingAndGlyphs" stroke="#000" stroke-width="0.12">PFS According to TMTV (Cutoff &gt; 220) Before R-CHOP -</text>
<text x="96.70" y="243.50" font-size="6.5" fill="#000" font-weight="bold" text-anchor="start" textLength="82.70" lengthAdjust="spacingAndGlyphs" stroke="#000" stroke-width="0.12">Lenalidomide Maintenance</text>
<text x="45.80" y="251.70" font-size="6.6" fill="#000" font-weight="normal" text-anchor="start" textLength="183.00" lengthAdjust="spacingAndGlyphs">With Number of Subjects at Risk and 95% Confidence Interval</text>
<path d="M47.50,259.40 V259.40 H53.35 V259.40 H64.22 V259.83 H71.53 V260.26 H76.13 V260.70 H88.46 V261.56 H103.93 V262.86 H120.65 V264.93 H152.00 V269.85 H192.55 V296.90 H152.00 V279.53 H120.65 V274.26 H103.93 V271.93 H88.46 V269.68 H76.13 V267.35 H71.53 V265.45 H64.22 V261.99 H53.35 V260.26 H47.50 Z" fill="#2d4d8c" fill-opacity="0.2"/>
<path d="M47.50,259.40 V259.40 H50.01 V259.40 H53.14 V259.83 H56.28 V261.13 H59.31 V261.99 H62.13 V263.72 H65.47 V265.45 H68.40 V268.04 H72.37 V270.37 H80.94 V271.50 H90.14 V272.79 H96.20 V273.48 H101.84 V274.95 H109.36 V276.59 H115.42 V280.48 H152.00 V282.30 H171.65 V282.30 H174.36 V292.32 H202.58 V327.14 H174.36 V306.92 H171.65 V302.60 H152.00 V301.13 H115.42 V298.11 H109.36 V293.96 H101.84 V292.23 H96.20 V290.42 H90.14 V287.91 H80.94 V285.75 H72.37 V280.14 H68.40 V276.68 H65.47 V274.09 H62.13 V271.93 H59.31 V269.77 H56.28 V267.26 H53.14 V263.72 H50.01 V260.26 H47.50 Z" fill="#b4193f" fill-opacity="0.2"/>
<path d="M47.50,259.40 V259.40 H53.35 V261.13 H76.13 V261.99 H79.27 V263.46 H85.54 V265.02 H105.39 V266.14 H116.26 V267.35 H117.72 V268.90 H122.32 V270.37 H151.37 V270.63 H153.25 V274.95 H155.13 V279.53 H192.55" stroke="#2d4d8c" stroke-width="1.1" fill="none" stroke-linejoin="miter"/>
<path d="M49.17,258.20V260.60M55.02,259.93V262.33M60.41,259.93V262.33M65.67,259.93V262.33M68.58,259.93V262.33M70.92,259.93V262.33M73.28,259.93V262.33M77.81,260.79V263.19M80.94,262.26V264.66M84.88,262.26V264.66M87.21,263.82V266.22M92.01,263.82V266.22M95.38,263.82V266.22M99.43,263.82V266.22M104.07,263.82V266.22M107.06,264.94V267.34M111.15,264.94V267.34M119.40,267.70V270.10M123.99,269.17V271.57M128.44,269.17V271.57M131.80,269.17V271.57M133.97,269.17V271.57M138.57,269.17V271.57M141.35,269.17V271.57M145.99,269.17V271.57M156.81,278.33V280.73M159.84,278.33V280.73M162.90,278.33V280.73M168.12,278.33V280.73M172.46,278.33V280.73M174.60,278.33V280.73M176.57,278.33V280.73M178.63,278.33V280.73M183.69,278.33V280.73M188.35,278.33V280.73M190.40,278.33V280.73" stroke="#2d4d8c" stroke-width="0.9" fill="none"/>
<path d="M47.50,259.40 V259.40 H49.17 V260.26 H51.26 V261.56 H53.14 V262.68 H55.86 V264.15 H59.31 V265.79 H62.13 V267.18 H65.47 V268.90 H68.40 V270.63 H70.07 V271.93 H72.37 V276.59 H77.81 V278.06 H80.73 V280.40 H90.14 V281.43 H96.20 V282.73 H106.86 V283.51 H109.36 V286.53 H113.13 V287.91 H115.42 V290.68 H171.65 V290.85 H173.32 V296.90 H174.36 V309.51 H202.58" stroke="#b4193f" stroke-width="1.1" fill="none" stroke-linejoin="miter"/>
<path d="M54.81,261.48V263.88M57.53,262.95V265.35M60.98,264.59V266.99M63.80,265.98V268.38M67.15,267.70V270.10M74.04,275.39V277.79M75.56,275.39V277.79M79.48,276.86V279.26M82.40,279.20V281.60M85.96,279.20V281.60M91.81,280.23V282.63M94.99,280.23V282.63M97.87,281.53V283.93M102.61,281.53V283.93M104.91,281.53V283.93M108.53,282.31V284.71M111.04,285.33V287.73M114.80,286.71V289.11M117.10,289.48V291.88M119.59,289.48V291.88M122.72,289.48V291.88M124.70,289.48V291.88M129.78,289.48V291.88M132.64,289.48V291.88M135.93,289.48V291.88M139.71,289.48V291.88M144.76,289.48V291.88M147.89,289.48V291.88M153.00,289.48V291.88M156.46,289.48V291.88M160.03,289.48V291.88M163.57,289.48V291.88M165.11,289.48V291.88M168.32,289.48V291.88M170.51,289.48V291.88M176.03,308.31V310.71M180.67,308.31V310.71M182.82,308.31V310.71M186.16,308.31V310.71M190.50,308.31V310.71M194.18,308.31V310.71M196.94,308.31V310.71M200.46,308.31V310.71" stroke="#b4193f" stroke-width="0.9" fill="none"/>
<path d="M47.50,256.50 V345.80 H229.00" stroke="#000" stroke-width="1.1" fill="none"/>
<text x="41.50" y="348.15" font-size="6.6" fill="#1a1a1a" font-weight="normal" text-anchor="end" stroke="#1a1a1a" stroke-width="0.1">0.0</text>
<text x="41.50" y="330.87" font-size="6.6" fill="#1a1a1a" font-weight="normal" text-anchor="end" stroke="#1a1a1a" stroke-width="0.1">0.2</text>
<text x="41.50" y="313.59" font-size="6.6" fill="#1a1a1a" font-weight="normal" text-anchor="end" stroke="#1a1a1a" stroke-width="0.1">0.4</text>
<text x="41.50" y="296.31" font-size="6.6" fill="#1a1a1a" font-weight="normal" text-anchor="end" stroke="#1a1a1a" stroke-width="0.1">0.6</text>
<text x="41.50" y="279.03" font-size="6.6" fill="#1a1a1a" font-weight="normal" text-anchor="end" stroke="#1a1a1a" stroke-width="0.1">0.8</text>
<text x="41.50" y="261.75" font-size="6.6" fill="#1a1a1a" font-weight="normal" text-anchor="end" stroke="#1a1a1a" stroke-width="0.1">1.0</text>
<text x="47.50" y="357.40" font-size="6.6" fill="#1a1a1a" font-weight="normal" text-anchor="middle" stroke="#1a1a1a" stroke-width="0.1">0</text>
<text x="60.04" y="357.40" font-size="6.6" fill="#1a1a1a" font-weight="normal" text-anchor="middle" stroke="#1a1a1a" stroke-width="0.1">6</text>
<text x="72.58" y="357.40" font-size="6.6" fill="#1a1a1a" font-weight="normal" text-anchor="middle" stroke="#1a1a1a" stroke-width="0.1">12</text>
<text x="85.12" y="357.40" font-size="6.6" fill="#1a1a1a" font-weight="normal" text-anchor="middle" stroke="#1a1a1a" stroke-width="0.1">18</text>
<text x="97.66" y="357.40" font-size="6.6" fill="#1a1a1a" font-weight="normal" text-anchor="middle" stroke="#1a1a1a" stroke-width="0.1">24</text>
<text x="110.20" y="357.40" font-size="6.6" fill="#1a1a1a" font-weight="normal" text-anchor="middle" stroke="#1a1a1a" stroke-width="0.1">30</text>
<text x="122.74" y="357.40" font-size="6.6" fill="#1a1a1a" font-weight="normal" text-anchor="middle" stroke="#1a1a1a" stroke-width="0.1">36</text>
<text x="135.28" y="357.40" font-size="6.6" fill="#1a1a1a" font-weight="normal" text-anchor="middle" stroke="#1a1a1a" stroke-width="0.1">42</text>
<text x="147.82" y="357.40" font-size="6.6" fill="#1a1a1a" font-weight="normal" text-anchor="middle" stroke="#1a1a1a" stroke-width="0.1">48</text>
<text x="160.36" y="357.40" font-size="6.6" fill="#1a1a1a" font-weight="normal" text-anchor="middle" stroke="#1a1a1a" stroke-width="0.1">54</text>
<text x="172.90" y="357.40" font-size="6.6" fill="#1a1a1a" font-weight="normal" text-anchor="middle" stroke="#1a1a1a" stroke-width="0.1">60</text>
<text x="185.44" y="357.40" font-size="6.6" fill="#1a1a1a" font-weight="normal" text-anchor="middle" stroke="#1a1a1a" stroke-width="0.1">66</text>
<text x="197.98" y="357.40" font-size="6.6" fill="#1a1a1a" font-weight="normal" text-anchor="middle" stroke="#1a1a1a" stroke-width="0.1">72</text>
<text x="210.52" y="357.40" font-size="6.6" fill="#1a1a1a" font-weight="normal" text-anchor="middle" stroke="#1a1a1a" stroke-width="0.1">78</text>
<path d="M44.50,345.80H47.50M44.50,328.52H47.50M44.50,311.24H47.50M44.50,293.96H47.50M44.50,276.68H47.50M44.50,259.40H47.50M47.50,345.80V348.80M60.04,345.80V348.80M72.58,345.80V348.80M85.12,345.80V348.80M97.66,345.80V348.80M110.20,345.80V348.80M122.74,345.80V348.80M135.28,345.80V348.80M147.82,345.80V348.80M160.36,345.80V348.80M172.90,345.80V348.80M185.44,345.80V348.80M197.98,345.80V348.80M210.52,345.80V348.80" stroke="#111" stroke-width="1" fill="none"/>
<text x="118.00" y="369.50" font-size="8.4" fill="#2a2a2a" font-weight="normal" text-anchor="start" textLength="40.30" lengthAdjust="spacingAndGlyphs">PFS (months)</text>
<text x="0" y="0" font-size="8.8" fill="#333" text-anchor="middle" textLength="59.3" lengthAdjust="spacingAndGlyphs" transform="translate(27.20,300.95) rotate(-90)">Survival probability</text>
<text x="195.30" y="281.80" font-size="6.0" fill="#38558f" font-weight="normal" text-anchor="start" textLength="12.80" lengthAdjust="spacingAndGlyphs">≤ 220</text>
<text x="205.40" y="311.60" font-size="6.0" fill="#b3173e" font-weight="normal" text-anchor="start" textLength="14.10" lengthAdjust="spacingAndGlyphs">&gt; 220</text>
<text x="21.90" y="380.20" font-size="6.6" fill="#222" font-weight="normal" text-anchor="start" textLength="43.30" lengthAdjust="spacingAndGlyphs" stroke="#222" stroke-width="0.08">Patients at risk</text>
<text x="20.80" y="389.60" font-size="7" fill="#38558f" font-weight="normal" text-anchor="start" textLength="16.30" lengthAdjust="spacingAndGlyphs" stroke="#38558f" stroke-width="0.1">≤ 220</text>
<text x="20.80" y="398.30" font-size="7" fill="#b3173e" font-weight="normal" text-anchor="start" textLength="16.30" lengthAdjust="spacingAndGlyphs" stroke="#b3173e" stroke-width="0.1">&gt; 220</text>
<text x="47.50" y="389.60" font-size="7.3" fill="#38558f" font-weight="normal" text-anchor="middle" textLength="7.50" lengthAdjust="spacingAndGlyphs" stroke="#38558f" stroke-width="0.12">77</text>
<text x="60.04" y="389.60" font-size="7.3" fill="#38558f" font-weight="normal" text-anchor="middle" textLength="7.50" lengthAdjust="spacingAndGlyphs" stroke="#38558f" stroke-width="0.12">73</text>
<text x="72.58" y="389.60" font-size="7.3" fill="#38558f" font-weight="normal" text-anchor="middle" textLength="7.50" lengthAdjust="spacingAndGlyphs" stroke="#38558f" stroke-width="0.12">73</text>
<text x="85.12" y="389.60" font-size="7.3" fill="#38558f" font-weight="normal" text-anchor="middle" textLength="7.50" lengthAdjust="spacingAndGlyphs" stroke="#38558f" stroke-width="0.12">68</text>
<text x="97.66" y="389.60" font-size="7.3" fill="#38558f" font-weight="normal" text-anchor="middle" textLength="7.50" lengthAdjust="spacingAndGlyphs" stroke="#38558f" stroke-width="0.12">60</text>
<text x="110.20" y="389.60" font-size="7.3" fill="#38558f" font-weight="normal" text-anchor="middle" textLength="7.50" lengthAdjust="spacingAndGlyphs" stroke="#38558f" stroke-width="0.12">50</text>
<text x="122.74" y="389.60" font-size="7.3" fill="#38558f" font-weight="normal" text-anchor="middle" textLength="7.50" lengthAdjust="spacingAndGlyphs" stroke="#38558f" stroke-width="0.12">39</text>
<text x="135.28" y="389.60" font-size="7.3" fill="#38558f" font-weight="normal" text-anchor="middle" textLength="7.50" lengthAdjust="spacingAndGlyphs" stroke="#38558f" stroke-width="0.12">26</text>
<text x="147.82" y="389.60" font-size="7.3" fill="#38558f" font-weight="normal" text-anchor="middle" textLength="7.50" lengthAdjust="spacingAndGlyphs" stroke="#38558f" stroke-width="0.12">21</text>
<text x="160.36" y="389.60" font-size="7.3" fill="#38558f" font-weight="normal" text-anchor="middle" textLength="7.50" lengthAdjust="spacingAndGlyphs" stroke="#38558f" stroke-width="0.12">12</text>
<text x="172.90" y="389.60" font-size="7.3" fill="#38558f" font-weight="normal" text-anchor="middle" textLength="4.05" lengthAdjust="spacingAndGlyphs" stroke="#38558f" stroke-width="0.12">8</text>
<text x="185.44" y="389.60" font-size="7.3" fill="#38558f" font-weight="normal" text-anchor="middle" textLength="4.05" lengthAdjust="spacingAndGlyphs" stroke="#38558f" stroke-width="0.12">1</text>
<text x="197.98" y="389.60" font-size="7.3" fill="#38558f" font-weight="normal" text-anchor="middle" textLength="4.05" lengthAdjust="spacingAndGlyphs" stroke="#38558f" stroke-width="0.12">0</text>
<text x="47.50" y="398.30" font-size="7.3" fill="#b3173e" font-weight="normal" text-anchor="middle" textLength="7.50" lengthAdjust="spacingAndGlyphs" stroke="#b3173e" stroke-width="0.12">78</text>
<text x="60.04" y="398.30" font-size="7.3" fill="#b3173e" font-weight="normal" text-anchor="middle" textLength="7.50" lengthAdjust="spacingAndGlyphs" stroke="#b3173e" stroke-width="0.12">68</text>
<text x="72.58" y="398.30" font-size="7.3" fill="#b3173e" font-weight="normal" text-anchor="middle" textLength="7.50" lengthAdjust="spacingAndGlyphs" stroke="#b3173e" stroke-width="0.12">57</text>
<text x="85.12" y="398.30" font-size="7.3" fill="#b3173e" font-weight="normal" text-anchor="middle" textLength="7.50" lengthAdjust="spacingAndGlyphs" stroke="#b3173e" stroke-width="0.12">52</text>
<text x="97.66" y="398.30" font-size="7.3" fill="#b3173e" font-weight="normal" text-anchor="middle" textLength="7.50" lengthAdjust="spacingAndGlyphs" stroke="#b3173e" stroke-width="0.12">43</text>
<text x="110.20" y="398.30" font-size="7.3" fill="#b3173e" font-weight="normal" text-anchor="middle" textLength="7.50" lengthAdjust="spacingAndGlyphs" stroke="#b3173e" stroke-width="0.12">33</text>
<text x="122.74" y="398.30" font-size="7.3" fill="#b3173e" font-weight="normal" text-anchor="middle" textLength="7.50" lengthAdjust="spacingAndGlyphs" stroke="#b3173e" stroke-width="0.12">26</text>
<text x="135.28" y="398.30" font-size="7.3" fill="#b3173e" font-weight="normal" text-anchor="middle" textLength="7.50" lengthAdjust="spacingAndGlyphs" stroke="#b3173e" stroke-width="0.12">23</text>
<text x="147.82" y="398.30" font-size="7.3" fill="#b3173e" font-weight="normal" text-anchor="middle" textLength="7.50" lengthAdjust="spacingAndGlyphs" stroke="#b3173e" stroke-width="0.12">21</text>
<text x="160.36" y="398.30" font-size="7.3" fill="#b3173e" font-weight="normal" text-anchor="middle" textLength="7.50" lengthAdjust="spacingAndGlyphs" stroke="#b3173e" stroke-width="0.12">12</text>
<text x="172.90" y="398.30" font-size="7.3" fill="#b3173e" font-weight="normal" text-anchor="middle" textLength="4.05" lengthAdjust="spacingAndGlyphs" stroke="#b3173e" stroke-width="0.12">8</text>
<text x="185.44" y="398.30" font-size="7.3" fill="#b3173e" font-weight="normal" text-anchor="middle" textLength="4.05" lengthAdjust="spacingAndGlyphs" stroke="#b3173e" stroke-width="0.12">3</text>
<text x="197.98" y="398.30" font-size="7.3" fill="#b3173e" font-weight="normal" text-anchor="middle" textLength="4.05" lengthAdjust="spacingAndGlyphs" stroke="#b3173e" stroke-width="0.12">1</text>
<text x="210.52" y="398.30" font-size="7.3" fill="#b3173e" font-weight="normal" text-anchor="middle" textLength="4.05" lengthAdjust="spacingAndGlyphs" stroke="#b3173e" stroke-width="0.12">0</text>
<text x="271.20" y="224.00" font-size="12.4" fill="#000" font-weight="bold" text-anchor="start" stroke="#000" stroke-width="0.45">D</text>
<text x="313.80" y="235.80" font-size="6.5" fill="#000" font-weight="bold" text-anchor="start" textLength="174.70" lengthAdjust="spacingAndGlyphs" stroke="#000" stroke-width="0.12">PFS According to TMTV (Cutoff &gt; 220) Before R-CHOP -</text>
<text x="368.30" y="243.50" font-size="6.5" fill="#000" font-weight="bold" text-anchor="start" textLength="65.90" lengthAdjust="spacingAndGlyphs" stroke="#000" stroke-width="0.12">Placebo Maintenance</text>
<text x="308.70" y="251.70" font-size="6.6" fill="#000" font-weight="normal" text-anchor="start" textLength="181.70" lengthAdjust="spacingAndGlyphs">With Number of Subjects at Risk and 95% Confidence Interval</text>
<path d="M310.50,259.40 V259.40 H319.70 V259.40 H320.95 V261.13 H332.44 V261.13 H337.04 V262.25 H348.54 V263.98 H358.78 V266.31 H367.77 V268.04 H379.68 V268.90 H385.95 V272.36 H415.63 V278.67 H419.18 V278.67 H428.38 V283.25 H433.81 V288.78 H440.50 V295.08 H453.04 V304.33 H455.75 V343.21 H453.04 V337.16 H440.50 V320.74 H433.81 V311.24 H428.38 V306.06 H419.18 V297.76 H415.63 V291.37 H385.95 V287.91 H379.68 V285.32 H367.77 V281.69 H358.78 V276.68 H348.54 V271.41 H337.04 V269.08 H332.44 V266.92 H320.95 V263.72 H319.70 V260.26 H310.50 Z" fill="#2d4d8c" fill-opacity="0.2"/>
<path d="M310.50,259.40 V259.40 H312.17 V259.40 H313.43 V260.26 H315.52 V261.13 H318.86 V262.86 H322.41 V265.45 H325.97 V266.31 H329.31 V269.77 H331.40 V275.99 H348.54 V278.41 H350.84 V278.41 H360.03 V279.96 H364.63 V280.14 H366.93 V280.48 H386.99 V288.78 H405.60 V290.50 H409.15 V292.23 H411.87 V295.08 H453.04 V316.86 H411.87 V314.70 H409.15 V312.10 H405.60 V307.78 H386.99 V301.74 H366.93 V298.71 H364.63 V295.69 H360.03 V293.96 H350.84 V293.10 H348.54 V292.23 H331.40 V286.36 H329.31 V280.57 H325.97 V277.11 H322.41 V272.53 H318.86 V269.08 H315.52 V266.74 H313.43 V263.29 H312.17 V260.26 H310.50 Z" fill="#b4193f" fill-opacity="0.2"/>
<path d="M310.50,259.40 V259.40 H320.32 V263.46 H337.04 V264.58 H342.69 V266.14 H347.28 V268.04 H349.58 V269.68 H358.78 V270.80 H363.38 V273.40 H366.93 V275.99 H379.68 V277.80 H385.95 V280.14 H415.63 V285.92 H419.18 V291.80 H428.38 V299.58 H433.81 V306.92 H440.50 V316.86 H453.04 V331.46 H455.75" stroke="#2d4d8c" stroke-width="1.1" fill="none" stroke-linejoin="miter"/>
<path d="M312.17,258.20V260.60M316.75,258.20V260.60M318.63,258.20V260.60M322.00,262.26V264.66M324.44,262.26V264.66M327.01,262.26V264.66M331.54,262.26V264.66M335.02,262.26V264.66M338.71,263.38V265.78M344.36,264.94V267.34M351.25,268.48V270.88M354.48,268.48V270.88M360.45,269.60V272.00M365.05,272.20V274.60M368.60,274.79V277.19M372.82,274.79V277.19M376.08,274.79V277.19M381.35,276.60V279.00M384.71,276.60V279.00M387.62,278.94V281.34M391.86,278.94V281.34M396.80,278.94V281.34M402.01,278.94V281.34M404.50,278.94V281.34M408.19,278.94V281.34M413.40,278.94V281.34M417.30,284.72V287.12M420.85,290.60V293.00M422.80,290.60V293.00M426.02,290.60V293.00M430.05,298.38V300.78M432.47,298.38V300.78M435.48,305.72V308.12M439.60,305.72V308.12M442.17,315.66V318.06M447.20,315.66V318.06M449.27,315.66V318.06M454.71,330.26V332.66" stroke="#2d4d8c" stroke-width="0.9" fill="none"/>
<path d="M310.50,259.40 V259.40 H313.43 V261.13 H315.73 V263.29 H319.70 V266.14 H322.00 V267.61 H324.29 V269.08 H326.59 V271.32 H328.89 V274.26 H330.56 V278.32 H332.44 V283.51 H348.54 V284.02 H351.25 V284.89 H355.44 V285.75 H360.03 V286.62 H362.33 V288.34 H364.63 V289.64 H365.68 V291.37 H386.99 V297.76 H405.60 V300.87 H409.15 V303.20 H411.87 V305.62 H453.04" stroke="#b4193f" stroke-width="1.1" fill="none" stroke-linejoin="miter"/>
<path d="M312.17,258.20V260.60M317.40,262.09V264.49M325.97,267.88V270.28M334.12,282.31V284.71M336.45,282.31V284.71M341.70,282.31V284.71M344.74,282.31V284.71M350.21,282.82V285.22M352.93,283.69V286.09M357.11,284.55V286.95M359.21,284.55V286.95M367.35,290.17V292.57M370.86,290.17V292.57M373.67,290.17V292.57M375.91,290.17V292.57M378.64,290.17V292.57M382.97,290.17V292.57M384.51,290.17V292.57M388.67,296.56V298.96M391.88,296.56V298.96M393.41,296.56V298.96M396.19,296.56V298.96M400.13,296.56V298.96M403.63,296.56V298.96M407.27,299.67V302.07M410.82,302.00V304.40M413.54,304.42V306.82M418.86,304.42V306.82M420.74,304.42V306.82M423.26,304.42V306.82M424.88,304.42V306.82M429.43,304.42V306.82M431.97,304.42V306.82M433.95,304.42V306.82M437.09,304.42V306.82M442.17,304.42V306.82M446.88,304.42V306.82M449.37,304.42V306.82M451.43,304.42V306.82" stroke="#b4193f" stroke-width="0.9" fill="none"/>
<path d="M310.50,256.50 V345.80 H492.00" stroke="#000" stroke-width="1.1" fill="none"/>
<text x="304.50" y="348.15" font-size="6.6" fill="#1a1a1a" font-weight="normal" text-anchor="end" stroke="#1a1a1a" stroke-width="0.1">0.0</text>
<text x="304.50" y="330.87" font-size="6.6" fill="#1a1a1a" font-weight="normal" text-anchor="end" stroke="#1a1a1a" stroke-width="0.1">0.2</text>
<text x="304.50" y="313.59" font-size="6.6" fill="#1a1a1a" font-weight="normal" text-anchor="end" stroke="#1a1a1a" stroke-width="0.1">0.4</text>
<text x="304.50" y="296.31" font-size="6.6" fill="#1a1a1a" font-weight="normal" text-anchor="end" stroke="#1a1a1a" stroke-width="0.1">0.6</text>
<text x="304.50" y="279.03" font-size="6.6" fill="#1a1a1a" font-weight="normal" text-anchor="end" stroke="#1a1a1a" stroke-width="0.1">0.8</text>
<text x="304.50" y="261.75" font-size="6.6" fill="#1a1a1a" font-weight="normal" text-anchor="end" stroke="#1a1a1a" stroke-width="0.1">1.0</text>
<text x="310.50" y="357.40" font-size="6.6" fill="#1a1a1a" font-weight="normal" text-anchor="middle" stroke="#1a1a1a" stroke-width="0.1">0</text>
<text x="323.04" y="357.40" font-size="6.6" fill="#1a1a1a" font-weight="normal" text-anchor="middle" stroke="#1a1a1a" stroke-width="0.1">6</text>
<text x="335.58" y="357.40" font-size="6.6" fill="#1a1a1a" font-weight="normal" text-anchor="middle" stroke="#1a1a1a" stroke-width="0.1">12</text>
<text x="348.12" y="357.40" font-size="6.6" fill="#1a1a1a" font-weight="normal" text-anchor="middle" stroke="#1a1a1a" stroke-width="0.1">18</text>
<text x="360.66" y="357.40" font-size="6.6" fill="#1a1a1a" font-weight="normal" text-anchor="middle" stroke="#1a1a1a" stroke-width="0.1">24</text>
<text x="373.20" y="357.40" font-size="6.6" fill="#1a1a1a" font-weight="normal" text-anchor="middle" stroke="#1a1a1a" stroke-width="0.1">30</text>
<text x="385.74" y="357.40" font-size="6.6" fill="#1a1a1a" font-weight="normal" text-anchor="middle" stroke="#1a1a1a" stroke-width="0.1">36</text>
<text x="398.28" y="357.40" font-size="6.6" fill="#1a1a1a" font-weight="normal" text-anchor="middle" stroke="#1a1a1a" stroke-width="0.1">42</text>
<text x="410.82" y="357.40" font-size="6.6" fill="#1a1a1a" font-weight="normal" text-anchor="middle" stroke="#1a1a1a" stroke-width="0.1">48</text>
<text x="423.36" y="357.40" font-size="6.6" fill="#1a1a1a" font-weight="normal" text-anchor="middle" stroke="#1a1a1a" stroke-width="0.1">54</text>
<text x="435.90" y="357.40" font-size="6.6" fill="#1a1a1a" font-weight="normal" text-anchor="middle" stroke="#1a1a1a" stroke-width="0.1">60</text>
<text x="448.44" y="357.40" font-size="6.6" fill="#1a1a1a" font-weight="normal" text-anchor="middle" stroke="#1a1a1a" stroke-width="0.1">66</text>
<text x="460.98" y="357.40" font-size="6.6" fill="#1a1a1a" font-weight="normal" text-anchor="middle" stroke="#1a1a1a" stroke-width="0.1">72</text>
<text x="473.52" y="357.40" font-size="6.6" fill="#1a1a1a" font-weight="normal" text-anchor="middle" stroke="#1a1a1a" stroke-width="0.1">78</text>
<path d="M307.50,345.80H310.50M307.50,328.52H310.50M307.50,311.24H310.50M307.50,293.96H310.50M307.50,276.68H310.50M307.50,259.40H310.50M310.50,345.80V348.80M323.04,345.80V348.80M335.58,345.80V348.80M348.12,345.80V348.80M360.66,345.80V348.80M373.20,345.80V348.80M385.74,345.80V348.80M398.28,345.80V348.80M410.82,345.80V348.80M423.36,345.80V348.80M435.90,345.80V348.80M448.44,345.80V348.80M460.98,345.80V348.80M473.52,345.80V348.80" stroke="#111" stroke-width="1" fill="none"/>
<text x="381.00" y="369.50" font-size="8.4" fill="#2a2a2a" font-weight="normal" text-anchor="start" textLength="40.30" lengthAdjust="spacingAndGlyphs">PFS (months)</text>
<text x="0" y="0" font-size="8.8" fill="#333" text-anchor="middle" textLength="59.3" lengthAdjust="spacingAndGlyphs" transform="translate(290.20,300.95) rotate(-90)">Survival probability</text>
<text x="456.90" y="308.30" font-size="6.0" fill="#b3173e" font-weight="normal" text-anchor="start" textLength="14.20" lengthAdjust="spacingAndGlyphs">&gt; 220</text>
<text x="458.00" y="333.50" font-size="6.0" fill="#38558f" font-weight="normal" text-anchor="start" textLength="14.00" lengthAdjust="spacingAndGlyphs">≤ 220</text>
<text x="285.00" y="380.00" font-size="6.6" fill="#222" font-weight="normal" text-anchor="start" textLength="42.70" lengthAdjust="spacingAndGlyphs" stroke="#222" stroke-width="0.08">Patients at risk</text>
<text x="283.60" y="389.60" font-size="7" fill="#38558f" font-weight="normal" text-anchor="start" textLength="16.40" lengthAdjust="spacingAndGlyphs" stroke="#38558f" stroke-width="0.1">≤ 220</text>
<text x="283.60" y="398.30" font-size="7" fill="#b3173e" font-weight="normal" text-anchor="start" textLength="16.40" lengthAdjust="spacingAndGlyphs" stroke="#b3173e" stroke-width="0.1">&gt; 220</text>
<text x="310.50" y="389.60" font-size="7.3" fill="#38558f" font-weight="normal" text-anchor="middle" textLength="7.50" lengthAdjust="spacingAndGlyphs" stroke="#38558f" stroke-width="0.12">65</text>
<text x="324.08" y="389.60" font-size="7.3" fill="#38558f" font-weight="normal" text-anchor="middle" textLength="7.50" lengthAdjust="spacingAndGlyphs" stroke="#38558f" stroke-width="0.12">60</text>
<text x="337.67" y="389.60" font-size="7.3" fill="#38558f" font-weight="normal" text-anchor="middle" textLength="7.50" lengthAdjust="spacingAndGlyphs" stroke="#38558f" stroke-width="0.12">59</text>
<text x="351.25" y="389.60" font-size="7.3" fill="#38558f" font-weight="normal" text-anchor="middle" textLength="7.50" lengthAdjust="spacingAndGlyphs" stroke="#38558f" stroke-width="0.12">55</text>
<text x="364.83" y="389.60" font-size="7.3" fill="#38558f" font-weight="normal" text-anchor="middle" textLength="7.50" lengthAdjust="spacingAndGlyphs" stroke="#38558f" stroke-width="0.12">47</text>
<text x="378.42" y="389.60" font-size="7.3" fill="#38558f" font-weight="normal" text-anchor="middle" textLength="7.50" lengthAdjust="spacingAndGlyphs" stroke="#38558f" stroke-width="0.12">40</text>
<text x="392.00" y="389.60" font-size="7.3" fill="#38558f" font-weight="normal" text-anchor="middle" textLength="7.50" lengthAdjust="spacingAndGlyphs" stroke="#38558f" stroke-width="0.12">31</text>
<text x="405.58" y="389.60" font-size="7.3" fill="#38558f" font-weight="normal" text-anchor="middle" textLength="7.50" lengthAdjust="spacingAndGlyphs" stroke="#38558f" stroke-width="0.12">24</text>
<text x="419.17" y="389.60" font-size="7.3" fill="#38558f" font-weight="normal" text-anchor="middle" textLength="7.50" lengthAdjust="spacingAndGlyphs" stroke="#38558f" stroke-width="0.12">14</text>
<text x="432.75" y="389.60" font-size="7.3" fill="#38558f" font-weight="normal" text-anchor="middle" textLength="4.05" lengthAdjust="spacingAndGlyphs" stroke="#38558f" stroke-width="0.12">9</text>
<text x="446.33" y="389.60" font-size="7.3" fill="#38558f" font-weight="normal" text-anchor="middle" textLength="4.05" lengthAdjust="spacingAndGlyphs" stroke="#38558f" stroke-width="0.12">4</text>
<text x="459.92" y="389.60" font-size="7.3" fill="#38558f" font-weight="normal" text-anchor="middle" textLength="4.05" lengthAdjust="spacingAndGlyphs" stroke="#38558f" stroke-width="0.12">3</text>
<text x="473.50" y="389.60" font-size="7.3" fill="#38558f" font-weight="normal" text-anchor="middle" textLength="4.05" lengthAdjust="spacingAndGlyphs" stroke="#38558f" stroke-width="0.12">0</text>
<text x="310.50" y="398.30" font-size="7.3" fill="#b3173e" font-weight="normal" text-anchor="middle" textLength="7.50" lengthAdjust="spacingAndGlyphs" stroke="#b3173e" stroke-width="0.12">81</text>
<text x="324.08" y="398.30" font-size="7.3" fill="#b3173e" font-weight="normal" text-anchor="middle" textLength="7.50" lengthAdjust="spacingAndGlyphs" stroke="#b3173e" stroke-width="0.12">71</text>
<text x="337.67" y="398.30" font-size="7.3" fill="#b3173e" font-weight="normal" text-anchor="middle" textLength="7.50" lengthAdjust="spacingAndGlyphs" stroke="#b3173e" stroke-width="0.12">57</text>
<text x="351.25" y="398.30" font-size="7.3" fill="#b3173e" font-weight="normal" text-anchor="middle" textLength="7.50" lengthAdjust="spacingAndGlyphs" stroke="#b3173e" stroke-width="0.12">56</text>
<text x="364.83" y="398.30" font-size="7.3" fill="#b3173e" font-weight="normal" text-anchor="middle" textLength="7.50" lengthAdjust="spacingAndGlyphs" stroke="#b3173e" stroke-width="0.12">49</text>
<text x="378.42" y="398.30" font-size="7.3" fill="#b3173e" font-weight="normal" text-anchor="middle" textLength="7.50" lengthAdjust="spacingAndGlyphs" stroke="#b3173e" stroke-width="0.12">41</text>
<text x="392.00" y="398.30" font-size="7.3" fill="#b3173e" font-weight="normal" text-anchor="middle" textLength="7.50" lengthAdjust="spacingAndGlyphs" stroke="#b3173e" stroke-width="0.12">34</text>
<text x="405.58" y="398.30" font-size="7.3" fill="#b3173e" font-weight="normal" text-anchor="middle" textLength="7.50" lengthAdjust="spacingAndGlyphs" stroke="#b3173e" stroke-width="0.12">25</text>
<text x="419.17" y="398.30" font-size="7.3" fill="#b3173e" font-weight="normal" text-anchor="middle" textLength="7.50" lengthAdjust="spacingAndGlyphs" stroke="#b3173e" stroke-width="0.12">17</text>
<text x="432.75" y="398.30" font-size="7.3" fill="#b3173e" font-weight="normal" text-anchor="middle" textLength="7.50" lengthAdjust="spacingAndGlyphs" stroke="#b3173e" stroke-width="0.12">14</text>
<text x="446.33" y="398.30" font-size="7.3" fill="#b3173e" font-weight="normal" text-anchor="middle" textLength="4.05" lengthAdjust="spacingAndGlyphs" stroke="#b3173e" stroke-width="0.12">5</text>
<text x="459.92" y="398.30" font-size="7.3" fill="#b3173e" font-weight="normal" text-anchor="middle" textLength="4.05" lengthAdjust="spacingAndGlyphs" stroke="#b3173e" stroke-width="0.12">3</text>
<text x="473.50" y="398.30" font-size="7.3" fill="#b3173e" font-weight="normal" text-anchor="middle" textLength="4.05" lengthAdjust="spacingAndGlyphs" stroke="#b3173e" stroke-width="0.12">0</text>
<text x="7.40" y="425.00" font-size="12.4" fill="#000" font-weight="bold" text-anchor="start" stroke="#000" stroke-width="0.45">E</text>
<text x="52.10" y="436.30" font-size="6.5" fill="#000" font-weight="bold" text-anchor="start" textLength="172.50" lengthAdjust="spacingAndGlyphs" stroke="#000" stroke-width="0.12">OS According to TMTV (Cutoff &gt; 220) Before R-CHOP -</text>
<text x="96.70" y="444.00" font-size="6.5" fill="#000" font-weight="bold" text-anchor="start" textLength="82.70" lengthAdjust="spacingAndGlyphs" stroke="#000" stroke-width="0.12">Lenalidomide Maintenance</text>
<text x="45.80" y="452.10" font-size="6.6" fill="#000" font-weight="normal" text-anchor="start" textLength="183.00" lengthAdjust="spacingAndGlyphs">With Number of Subjects at Risk and 95% Confidence Interval</text>
<path d="M47.50,460.40 V460.40 H72.79 V460.40 H87.84 V460.83 H103.93 V461.69 H112.29 V462.12 H116.47 V462.55 H139.46 V463.85 H163.91 V467.55 H216.37 V485.83 H163.91 V475.40 H139.46 V474.62 H116.47 V473.76 H112.29 V471.61 H103.93 V469.02 H87.84 V468.07 H72.79 V460.83 H47.50 Z" fill="#2d4d8c" fill-opacity="0.2"/>
<path d="M47.50,460.40 V460.40 H56.07 V460.40 H60.04 V460.83 H64.64 V462.12 H66.94 V463.85 H69.86 V464.71 H72.79 V465.57 H87.84 V468.07 H94.73 V469.02 H101.84 V470.74 H110.20 V471.52 H116.47 V472.90 H139.46 V475.92 H140.50 V475.92 H163.91 V477.21 H198.61 V479.11 H229.96 V509.28 H198.61 V494.97 H163.91 V494.97 H140.50 V493.67 H139.46 V491.17 H116.47 V489.71 H110.20 V487.98 H101.84 V485.92 H94.73 V483.59 H87.84 V478.50 H72.79 V476.78 H69.86 V473.85 H66.94 V471.61 H64.64 V469.02 H60.04 V467.30 H56.07 V461.26 H47.50 Z" fill="#b4193f" fill-opacity="0.2"/>
<path d="M47.50,460.40 V460.40 H72.79 V461.43 H91.18 V462.90 H104.35 V463.68 H108.53 V464.02 H113.13 V464.80 H116.47 V465.74 H118.77 V466.69 H129.22 V468.07 H163.91 V470.83 H165.79 V473.59 H216.37" stroke="#2d4d8c" stroke-width="1.1" fill="none" stroke-linejoin="miter"/>
<path d="M49.17,459.20V461.60M52.90,459.20V461.60M57.15,459.20V461.60M58.96,459.20V461.60M60.65,459.20V461.60M64.85,459.20V461.60M68.00,459.20V461.60M69.75,459.20V461.60M74.46,460.23V462.63M78.44,460.23V462.63M83.09,460.23V462.63M84.89,460.23V462.63M89.75,460.23V462.63M92.85,461.70V464.10M97.74,461.70V464.10M101.01,461.70V464.10M106.02,462.48V464.88M110.20,462.82V465.22M114.80,463.60V466.00M118.14,464.54V466.94M120.44,465.49V467.89M124.00,465.49V467.89M126.41,465.49V467.89M128.30,465.49V467.89M130.89,466.87V469.27M132.55,466.87V469.27M134.82,466.87V469.27M137.52,466.87V469.27M140.19,466.87V469.27M144.67,466.87V469.27M147.29,466.87V469.27M150.74,466.87V469.27M152.91,466.87V469.27M155.75,466.87V469.27M157.28,466.87V469.27M159.74,466.87V469.27M161.26,466.87V469.27M167.47,472.39V474.79M171.12,472.39V474.79M173.33,472.39V474.79M176.68,472.39V474.79M181.86,472.39V474.79M183.74,472.39V474.79M188.46,472.39V474.79M191.63,472.39V474.79M195.06,472.39V474.79M199.84,472.39V474.79M202.86,472.39V474.79M206.34,472.39V474.79M210.53,472.39V474.79" stroke="#2d4d8c" stroke-width="0.9" fill="none"/>
<path d="M47.50,460.40 V460.40 H56.91 V461.26 H61.71 V461.69 H63.17 V462.99 H64.64 V464.02 H66.94 V466.35 H69.86 V468.68 H72.79 V469.80 H76.76 V470.57 H86.58 V472.47 H88.25 V475.57 H91.18 V476.09 H94.73 V477.30 H98.08 V478.50 H100.38 V479.02 H107.27 V479.36 H110.83 V479.97 H114.38 V480.92 H116.47 V481.86 H120.02 V482.73 H140.50 V485.14 H198.61 V491.86 H229.96" stroke="#b4193f" stroke-width="1.1" fill="none" stroke-linejoin="miter"/>
<path d="M49.17,459.20V461.60M52.00,459.20V461.60M58.58,460.06V462.46M68.61,465.15V467.55M71.53,467.48V469.88M74.46,468.60V471.00M78.43,469.37V471.77M80.11,469.37V471.77M82.09,469.37V471.77M83.83,469.37V471.77M89.93,474.37V476.77M92.85,474.89V477.29M96.41,476.10V478.50M102.05,477.82V480.22M108.95,478.16V480.56M112.50,478.77V481.17M118.14,480.66V483.06M121.69,481.53V483.93M124.12,481.53V483.93M126.75,481.53V483.93M130.03,481.53V483.93M132.12,481.53V483.93M135.36,481.53V483.93M137.86,481.53V483.93M142.18,483.94V486.34M147.50,483.94V486.34M151.14,483.94V486.34M153.57,483.94V486.34M158.87,483.94V486.34M161.56,483.94V486.34M164.44,483.94V486.34M165.91,483.94V486.34M168.89,483.94V486.34M172.23,483.94V486.34M175.69,483.94V486.34M177.95,483.94V486.34M181.42,483.94V486.34M182.90,483.94V486.34M185.42,483.94V486.34M187.24,483.94V486.34M190.29,483.94V486.34M191.91,483.94V486.34M193.47,483.94V486.34M196.14,483.94V486.34M200.28,490.66V493.06M204.07,490.66V493.06M207.63,490.66V493.06M212.08,490.66V493.06M216.15,490.66V493.06M220.46,490.66V493.06M225.41,490.66V493.06M228.42,490.66V493.06" stroke="#b4193f" stroke-width="0.9" fill="none"/>
<path d="M47.50,457.50 V546.60 H229.00" stroke="#000" stroke-width="1.1" fill="none"/>
<text x="41.50" y="548.95" font-size="6.6" fill="#1a1a1a" font-weight="normal" text-anchor="end" stroke="#1a1a1a" stroke-width="0.1">0.0</text>
<text x="41.50" y="531.71" font-size="6.6" fill="#1a1a1a" font-weight="normal" text-anchor="end" stroke="#1a1a1a" stroke-width="0.1">0.2</text>
<text x="41.50" y="514.47" font-size="6.6" fill="#1a1a1a" font-weight="normal" text-anchor="end" stroke="#1a1a1a" stroke-width="0.1">0.4</text>
<text x="41.50" y="497.23" font-size="6.6" fill="#1a1a1a" font-weight="normal" text-anchor="end" stroke="#1a1a1a" stroke-width="0.1">0.6</text>
<text x="41.50" y="479.99" font-size="6.6" fill="#1a1a1a" font-weight="normal" text-anchor="end" stroke="#1a1a1a" stroke-width="0.1">0.8</text>
<text x="41.50" y="462.75" font-size="6.6" fill="#1a1a1a" font-weight="normal" text-anchor="end" stroke="#1a1a1a" stroke-width="0.1">1.0</text>
<text x="47.50" y="558.20" font-size="6.6" fill="#1a1a1a" font-weight="normal" text-anchor="middle" stroke="#1a1a1a" stroke-width="0.1">0</text>
<text x="60.04" y="558.20" font-size="6.6" fill="#1a1a1a" font-weight="normal" text-anchor="middle" stroke="#1a1a1a" stroke-width="0.1">6</text>
<text x="72.58" y="558.20" font-size="6.6" fill="#1a1a1a" font-weight="normal" text-anchor="middle" stroke="#1a1a1a" stroke-width="0.1">12</text>
<text x="85.12" y="558.20" font-size="6.6" fill="#1a1a1a" font-weight="normal" text-anchor="middle" stroke="#1a1a1a" stroke-width="0.1">18</text>
<text x="97.66" y="558.20" font-size="6.6" fill="#1a1a1a" font-weight="normal" text-anchor="middle" stroke="#1a1a1a" stroke-width="0.1">24</text>
<text x="110.20" y="558.20" font-size="6.6" fill="#1a1a1a" font-weight="normal" text-anchor="middle" stroke="#1a1a1a" stroke-width="0.1">30</text>
<text x="122.74" y="558.20" font-size="6.6" fill="#1a1a1a" font-weight="normal" text-anchor="middle" stroke="#1a1a1a" stroke-width="0.1">36</text>
<text x="135.28" y="558.20" font-size="6.6" fill="#1a1a1a" font-weight="normal" text-anchor="middle" stroke="#1a1a1a" stroke-width="0.1">42</text>
<text x="147.82" y="558.20" font-size="6.6" fill="#1a1a1a" font-weight="normal" text-anchor="middle" stroke="#1a1a1a" stroke-width="0.1">48</text>
<text x="160.36" y="558.20" font-size="6.6" fill="#1a1a1a" font-weight="normal" text-anchor="middle" stroke="#1a1a1a" stroke-width="0.1">54</text>
<text x="172.90" y="558.20" font-size="6.6" fill="#1a1a1a" font-weight="normal" text-anchor="middle" stroke="#1a1a1a" stroke-width="0.1">60</text>
<text x="185.44" y="558.20" font-size="6.6" fill="#1a1a1a" font-weight="normal" text-anchor="middle" stroke="#1a1a1a" stroke-width="0.1">66</text>
<text x="197.98" y="558.20" font-size="6.6" fill="#1a1a1a" font-weight="normal" text-anchor="middle" stroke="#1a1a1a" stroke-width="0.1">72</text>
<text x="210.52" y="558.20" font-size="6.6" fill="#1a1a1a" font-weight="normal" text-anchor="middle" stroke="#1a1a1a" stroke-width="0.1">78</text>
<path d="M44.50,546.60H47.50M44.50,529.36H47.50M44.50,512.12H47.50M44.50,494.88H47.50M44.50,477.64H47.50M44.50,460.40H47.50M47.50,546.60V549.60M60.04,546.60V549.60M72.58,546.60V549.60M85.12,546.60V549.60M97.66,546.60V549.60M110.20,546.60V549.60M122.74,546.60V549.60M135.28,546.60V549.60M147.82,546.60V549.60M160.36,546.60V549.60M172.90,546.60V549.60M185.44,546.60V549.60M197.98,546.60V549.60M210.52,546.60V549.60" stroke="#111" stroke-width="1" fill="none"/>
<text x="119.00" y="570.30" font-size="8.4" fill="#2a2a2a" font-weight="normal" text-anchor="start" textLength="38.70" lengthAdjust="spacingAndGlyphs">OS (months)</text>
<text x="0" y="0" font-size="8.8" fill="#333" text-anchor="middle" textLength="59.3" lengthAdjust="spacingAndGlyphs" transform="translate(27.20,501.75) rotate(-90)">Survival probability</text>
<text x="218.75" y="476.15" font-size="6.0" fill="#38558f" font-weight="normal" text-anchor="start" textLength="13.75" lengthAdjust="spacingAndGlyphs">≤ 220</text>
<text x="218.75" y="515.65" font-size="6.0" fill="#b3173e" font-weight="normal" text-anchor="start" textLength="13.75" lengthAdjust="spacingAndGlyphs">&gt; 220</text>
<text x="21.90" y="580.80" font-size="6.6" fill="#222" font-weight="normal" text-anchor="start" textLength="43.30" lengthAdjust="spacingAndGlyphs" stroke="#222" stroke-width="0.08">Patients at risk</text>
<text x="20.80" y="590.10" font-size="7" fill="#38558f" font-weight="normal" text-anchor="start" textLength="16.30" lengthAdjust="spacingAndGlyphs" stroke="#38558f" stroke-width="0.1">≤ 220</text>
<text x="20.80" y="599.00" font-size="7" fill="#b3173e" font-weight="normal" text-anchor="start" textLength="16.30" lengthAdjust="spacingAndGlyphs" stroke="#b3173e" stroke-width="0.1">&gt; 220</text>
<text x="47.50" y="590.10" font-size="7.3" fill="#38558f" font-weight="normal" text-anchor="middle" textLength="7.50" lengthAdjust="spacingAndGlyphs" stroke="#38558f" stroke-width="0.12">77</text>
<text x="60.04" y="590.10" font-size="7.3" fill="#38558f" font-weight="normal" text-anchor="middle" textLength="7.50" lengthAdjust="spacingAndGlyphs" stroke="#38558f" stroke-width="0.12">75</text>
<text x="72.58" y="590.10" font-size="7.3" fill="#38558f" font-weight="normal" text-anchor="middle" textLength="7.50" lengthAdjust="spacingAndGlyphs" stroke="#38558f" stroke-width="0.12">75</text>
<text x="85.12" y="590.10" font-size="7.3" fill="#38558f" font-weight="normal" text-anchor="middle" textLength="7.50" lengthAdjust="spacingAndGlyphs" stroke="#38558f" stroke-width="0.12">74</text>
<text x="97.66" y="590.10" font-size="7.3" fill="#38558f" font-weight="normal" text-anchor="middle" textLength="7.50" lengthAdjust="spacingAndGlyphs" stroke="#38558f" stroke-width="0.12">73</text>
<text x="110.20" y="590.10" font-size="7.3" fill="#38558f" font-weight="normal" text-anchor="middle" textLength="7.50" lengthAdjust="spacingAndGlyphs" stroke="#38558f" stroke-width="0.12">67</text>
<text x="122.74" y="590.10" font-size="7.3" fill="#38558f" font-weight="normal" text-anchor="middle" textLength="7.50" lengthAdjust="spacingAndGlyphs" stroke="#38558f" stroke-width="0.12">61</text>
<text x="135.28" y="590.10" font-size="7.3" fill="#38558f" font-weight="normal" text-anchor="middle" textLength="7.50" lengthAdjust="spacingAndGlyphs" stroke="#38558f" stroke-width="0.12">50</text>
<text x="147.82" y="590.10" font-size="7.3" fill="#38558f" font-weight="normal" text-anchor="middle" textLength="7.50" lengthAdjust="spacingAndGlyphs" stroke="#38558f" stroke-width="0.12">43</text>
<text x="160.36" y="590.10" font-size="7.3" fill="#38558f" font-weight="normal" text-anchor="middle" textLength="7.50" lengthAdjust="spacingAndGlyphs" stroke="#38558f" stroke-width="0.12">30</text>
<text x="172.90" y="590.10" font-size="7.3" fill="#38558f" font-weight="normal" text-anchor="middle" textLength="7.50" lengthAdjust="spacingAndGlyphs" stroke="#38558f" stroke-width="0.12">23</text>
<text x="185.44" y="590.10" font-size="7.3" fill="#38558f" font-weight="normal" text-anchor="middle" textLength="7.50" lengthAdjust="spacingAndGlyphs" stroke="#38558f" stroke-width="0.12">16</text>
<text x="197.98" y="590.10" font-size="7.3" fill="#38558f" font-weight="normal" text-anchor="middle" textLength="4.05" lengthAdjust="spacingAndGlyphs" stroke="#38558f" stroke-width="0.12">9</text>
<text x="210.52" y="590.10" font-size="7.3" fill="#38558f" font-weight="normal" text-anchor="middle" textLength="4.05" lengthAdjust="spacingAndGlyphs" stroke="#38558f" stroke-width="0.12">3</text>
<text x="47.50" y="599.00" font-size="7.3" fill="#b3173e" font-weight="normal" text-anchor="middle" textLength="7.50" lengthAdjust="spacingAndGlyphs" stroke="#b3173e" stroke-width="0.12">78</text>
<text x="60.04" y="599.00" font-size="7.3" fill="#b3173e" font-weight="normal" text-anchor="middle" textLength="7.50" lengthAdjust="spacingAndGlyphs" stroke="#b3173e" stroke-width="0.12">74</text>
<text x="72.58" y="599.00" font-size="7.3" fill="#b3173e" font-weight="normal" text-anchor="middle" textLength="7.50" lengthAdjust="spacingAndGlyphs" stroke="#b3173e" stroke-width="0.12">67</text>
<text x="85.12" y="599.00" font-size="7.3" fill="#b3173e" font-weight="normal" text-anchor="middle" textLength="7.50" lengthAdjust="spacingAndGlyphs" stroke="#b3173e" stroke-width="0.12">66</text>
<text x="97.66" y="599.00" font-size="7.3" fill="#b3173e" font-weight="normal" text-anchor="middle" textLength="7.50" lengthAdjust="spacingAndGlyphs" stroke="#b3173e" stroke-width="0.12">59</text>
<text x="110.20" y="599.00" font-size="7.3" fill="#b3173e" font-weight="normal" text-anchor="middle" textLength="7.50" lengthAdjust="spacingAndGlyphs" stroke="#b3173e" stroke-width="0.12">53</text>
<text x="122.74" y="599.00" font-size="7.3" fill="#b3173e" font-weight="normal" text-anchor="middle" textLength="7.50" lengthAdjust="spacingAndGlyphs" stroke="#b3173e" stroke-width="0.12">43</text>
<text x="135.28" y="599.00" font-size="7.3" fill="#b3173e" font-weight="normal" text-anchor="middle" textLength="7.50" lengthAdjust="spacingAndGlyphs" stroke="#b3173e" stroke-width="0.12">37</text>
<text x="147.82" y="599.00" font-size="7.3" fill="#b3173e" font-weight="normal" text-anchor="middle" textLength="7.50" lengthAdjust="spacingAndGlyphs" stroke="#b3173e" stroke-width="0.12">30</text>
<text x="160.36" y="599.00" font-size="7.3" fill="#b3173e" font-weight="normal" text-anchor="middle" textLength="7.50" lengthAdjust="spacingAndGlyphs" stroke="#b3173e" stroke-width="0.12">25</text>
<text x="172.90" y="599.00" font-size="7.3" fill="#b3173e" font-weight="normal" text-anchor="middle" textLength="7.50" lengthAdjust="spacingAndGlyphs" stroke="#b3173e" stroke-width="0.12">21</text>
<text x="185.44" y="599.00" font-size="7.3" fill="#b3173e" font-weight="normal" text-anchor="middle" textLength="7.50" lengthAdjust="spacingAndGlyphs" stroke="#b3173e" stroke-width="0.12">16</text>
<text x="197.98" y="599.00" font-size="7.3" fill="#b3173e" font-weight="normal" text-anchor="middle" textLength="4.05" lengthAdjust="spacingAndGlyphs" stroke="#b3173e" stroke-width="0.12">8</text>
<text x="210.52" y="599.00" font-size="7.3" fill="#b3173e" font-weight="normal" text-anchor="middle" textLength="4.05" lengthAdjust="spacingAndGlyphs" stroke="#b3173e" stroke-width="0.12">5</text>
<text x="271.20" y="425.00" font-size="12.4" fill="#000" font-weight="bold" text-anchor="start" stroke="#000" stroke-width="0.45">F</text>
<text x="315.40" y="436.30" font-size="6.5" fill="#000" font-weight="bold" text-anchor="start" textLength="170.20" lengthAdjust="spacingAndGlyphs" stroke="#000" stroke-width="0.12">OS According to TMTV (Cutoff &gt; 220) Before R-CHOP -</text>
<text x="368.30" y="444.00" font-size="6.5" fill="#000" font-weight="bold" text-anchor="start" textLength="65.90" lengthAdjust="spacingAndGlyphs" stroke="#000" stroke-width="0.12">Placebo Maintenance</text>
<text x="308.70" y="452.10" font-size="6.6" fill="#000" font-weight="normal" text-anchor="start" textLength="181.70" lengthAdjust="spacingAndGlyphs">With Number of Subjects at Risk and 95% Confidence Interval</text>
<path d="M310.50,460.40 V460.40 H328.06 V460.40 H351.46 V461.26 H358.57 V461.69 H392.43 V462.55 H420.23 V464.45 H488.57 V480.92 H420.23 V473.33 H392.43 V473.76 H358.57 V472.47 H351.46 V467.30 H328.06 V460.83 H310.50 Z" fill="#2d4d8c" fill-opacity="0.2"/>
<path d="M310.50,460.40 V460.40 H315.73 V460.40 H320.53 V460.83 H325.13 V462.55 H332.03 V464.71 H337.67 V466.43 H343.52 V468.16 H351.05 V470.31 H352.72 V470.74 H359.62 V471.61 H385.11 V472.47 H408.31 V473.59 H412.91 V473.59 H418.34 V473.59 H421.90 V479.97 H487.73 V499.19 H421.90 V494.62 H418.34 V491.00 H412.91 V488.24 H408.31 V486.26 H385.11 V486.00 H359.62 V484.19 H352.72 V482.81 H351.05 V480.23 H343.52 V477.64 H337.67 V475.57 H332.03 V470.40 H325.13 V466.87 H320.53 V464.71 H315.73 V461.26 H310.50 Z" fill="#b4193f" fill-opacity="0.2"/>
<path d="M310.50,460.40 V460.40 H328.47 V461.69 H351.25 V463.50 H358.57 V464.45 H392.43 V466.26 H420.23 V468.59 H421.27 V469.02 H488.57" stroke="#2d4d8c" stroke-width="1.1" fill="none" stroke-linejoin="miter"/>
<path d="M312.17,459.20V461.60M317.55,459.20V461.60M319.60,459.20V461.60M323.94,459.20V461.60M330.15,460.49V462.89M331.78,460.49V462.89M336.56,460.49V462.89M341.57,460.49V462.89M345.52,460.49V462.89M349.90,460.49V462.89M352.93,462.30V464.70M354.94,462.30V464.70M360.24,463.25V465.65M363.71,463.25V465.65M368.49,463.25V465.65M373.14,463.25V465.65M377.89,463.25V465.65M381.67,463.25V465.65M386.68,463.25V465.65M390.85,463.25V465.65M394.10,465.06V467.46M396.48,465.06V467.46M398.06,465.06V467.46M400.05,465.06V467.46M402.95,465.06V467.46M404.83,465.06V467.46M409.61,465.06V467.46M413.29,465.06V467.46M417.25,465.06V467.46M422.94,467.82V470.22M427.11,467.82V470.22M430.51,467.82V470.22M431.99,467.82V470.22M436.62,467.82V470.22M441.06,467.82V470.22M444.52,467.82V470.22M448.10,467.82V470.22M452.18,467.82V470.22M453.91,467.82V470.22M458.30,467.82V470.22M460.76,467.82V470.22M462.52,467.82V470.22M465.04,467.82V470.22M469.40,467.82V470.22M471.68,467.82V470.22M476.08,467.82V470.22M481.42,467.82V470.22M484.84,467.82V470.22M487.82,467.82V470.22" stroke="#2d4d8c" stroke-width="0.9" fill="none"/>
<path d="M310.50,460.40 V460.40 H315.73 V461.26 H323.04 V463.16 H326.80 V464.45 H330.36 V467.21 H334.12 V469.02 H339.55 V470.49 H344.15 V471.78 H350.42 V473.59 H354.18 V475.40 H361.29 V476.69 H385.11 V477.81 H395.14 V479.11 H408.31 V480.92 H412.91 V483.67 H418.34 V484.54 H421.90 V487.64 H487.73" stroke="#b4193f" stroke-width="1.1" fill="none" stroke-linejoin="miter"/>
<path d="M312.17,459.20V461.60M317.40,460.06V462.46M321.91,460.06V462.46M324.71,461.96V464.36M328.47,463.25V465.65M332.03,466.01V468.41M335.79,467.82V470.22M338.26,467.82V470.22M341.22,469.29V471.69M345.82,470.58V472.98M349.54,470.58V472.98M352.09,472.39V474.79M355.85,474.20V476.60M358.38,474.20V476.60M362.96,475.49V477.89M367.17,475.49V477.89M371.32,475.49V477.89M373.93,475.49V477.89M377.45,475.49V477.89M380.76,475.49V477.89M384.07,475.49V477.89M386.78,476.61V479.01M391.80,476.61V479.01M394.05,476.61V479.01M396.82,477.91V480.31M402.00,477.91V480.31M403.53,477.91V480.31M406.82,477.91V480.31M409.98,479.72V482.12M414.58,482.47V484.87M420.02,483.34V485.74M423.57,486.44V488.84M425.87,486.44V488.84M431.08,486.44V488.84M433.38,486.44V488.84M437.15,486.44V488.84M439.18,486.44V488.84M442.72,486.44V488.84M447.97,486.44V488.84M449.96,486.44V488.84M454.68,486.44V488.84M458.16,486.44V488.84M463.15,486.44V488.84M467.40,486.44V488.84M469.79,486.44V488.84M474.81,486.44V488.84M478.21,486.44V488.84M479.77,486.44V488.84M481.25,486.44V488.84M484.66,486.44V488.84" stroke="#b4193f" stroke-width="0.9" fill="none"/>
<path d="M310.50,457.50 V546.60 H492.00" stroke="#000" stroke-width="1.1" fill="none"/>
<text x="304.50" y="548.95" font-size="6.6" fill="#1a1a1a" font-weight="normal" text-anchor="end" stroke="#1a1a1a" stroke-width="0.1">0.0</text>
<text x="304.50" y="531.71" font-size="6.6" fill="#1a1a1a" font-weight="normal" text-anchor="end" stroke="#1a1a1a" stroke-width="0.1">0.2</text>
<text x="304.50" y="514.47" font-size="6.6" fill="#1a1a1a" font-weight="normal" text-anchor="end" stroke="#1a1a1a" stroke-width="0.1">0.4</text>
<text x="304.50" y="497.23" font-size="6.6" fill="#1a1a1a" font-weight="normal" text-anchor="end" stroke="#1a1a1a" stroke-width="0.1">0.6</text>
<text x="304.50" y="479.99" font-size="6.6" fill="#1a1a1a" font-weight="normal" text-anchor="end" stroke="#1a1a1a" stroke-width="0.1">0.8</text>
<text x="304.50" y="462.75" font-size="6.6" fill="#1a1a1a" font-weight="normal" text-anchor="end" stroke="#1a1a1a" stroke-width="0.1">1.0</text>
<text x="310.50" y="558.20" font-size="6.6" fill="#1a1a1a" font-weight="normal" text-anchor="middle" stroke="#1a1a1a" stroke-width="0.1">0</text>
<text x="323.04" y="558.20" font-size="6.6" fill="#1a1a1a" font-weight="normal" text-anchor="middle" stroke="#1a1a1a" stroke-width="0.1">6</text>
<text x="335.58" y="558.20" font-size="6.6" fill="#1a1a1a" font-weight="normal" text-anchor="middle" stroke="#1a1a1a" stroke-width="0.1">12</text>
<text x="348.12" y="558.20" font-size="6.6" fill="#1a1a1a" font-weight="normal" text-anchor="middle" stroke="#1a1a1a" stroke-width="0.1">18</text>
<text x="360.66" y="558.20" font-size="6.6" fill="#1a1a1a" font-weight="normal" text-anchor="middle" stroke="#1a1a1a" stroke-width="0.1">24</text>
<text x="373.20" y="558.20" font-size="6.6" fill="#1a1a1a" font-weight="normal" text-anchor="middle" stroke="#1a1a1a" stroke-width="0.1">30</text>
<text x="385.74" y="558.20" font-size="6.6" fill="#1a1a1a" font-weight="normal" text-anchor="middle" stroke="#1a1a1a" stroke-width="0.1">36</text>
<text x="398.28" y="558.20" font-size="6.6" fill="#1a1a1a" font-weight="normal" text-anchor="middle" stroke="#1a1a1a" stroke-width="0.1">42</text>
<text x="410.82" y="558.20" font-size="6.6" fill="#1a1a1a" font-weight="normal" text-anchor="middle" stroke="#1a1a1a" stroke-width="0.1">48</text>
<text x="423.36" y="558.20" font-size="6.6" fill="#1a1a1a" font-weight="normal" text-anchor="middle" stroke="#1a1a1a" stroke-width="0.1">54</text>
<text x="435.90" y="558.20" font-size="6.6" fill="#1a1a1a" font-weight="normal" text-anchor="middle" stroke="#1a1a1a" stroke-width="0.1">60</text>
<text x="448.44" y="558.20" font-size="6.6" fill="#1a1a1a" font-weight="normal" text-anchor="middle" stroke="#1a1a1a" stroke-width="0.1">66</text>
<text x="460.98" y="558.20" font-size="6.6" fill="#1a1a1a" font-weight="normal" text-anchor="middle" stroke="#1a1a1a" stroke-width="0.1">72</text>
<text x="473.52" y="558.20" font-size="6.6" fill="#1a1a1a" font-weight="normal" text-anchor="middle" stroke="#1a1a1a" stroke-width="0.1">78</text>
<path d="M307.50,546.60H310.50M307.50,529.36H310.50M307.50,512.12H310.50M307.50,494.88H310.50M307.50,477.64H310.50M307.50,460.40H310.50M310.50,546.60V549.60M323.04,546.60V549.60M335.58,546.60V549.60M348.12,546.60V549.60M360.66,546.60V549.60M373.20,546.60V549.60M385.74,546.60V549.60M398.28,546.60V549.60M410.82,546.60V549.60M423.36,546.60V549.60M435.90,546.60V549.60M448.44,546.60V549.60M460.98,546.60V549.60M473.52,546.60V549.60" stroke="#111" stroke-width="1" fill="none"/>
<text x="382.00" y="570.30" font-size="8.4" fill="#2a2a2a" font-weight="normal" text-anchor="start" textLength="38.70" lengthAdjust="spacingAndGlyphs">OS (months)</text>
<text x="0" y="0" font-size="8.8" fill="#333" text-anchor="middle" textLength="59.3" lengthAdjust="spacingAndGlyphs" transform="translate(290.20,501.75) rotate(-90)">Survival probability</text>
<text x="472.00" y="462.40" font-size="6.0" fill="#38558f" font-weight="normal" text-anchor="start" textLength="13.75" lengthAdjust="spacingAndGlyphs">≤ 220</text>
<text x="472.00" y="505.65" font-size="6.0" fill="#b3173e" font-weight="normal" text-anchor="start" textLength="13.75" lengthAdjust="spacingAndGlyphs">&gt; 220</text>
<text x="285.00" y="580.80" font-size="6.6" fill="#222" font-weight="normal" text-anchor="start" textLength="42.70" lengthAdjust="spacingAndGlyphs" stroke="#222" stroke-width="0.08">Patients at risk</text>
<text x="283.60" y="590.10" font-size="7" fill="#38558f" font-weight="normal" text-anchor="start" textLength="16.40" lengthAdjust="spacingAndGlyphs" stroke="#38558f" stroke-width="0.1">≤ 220</text>
<text x="283.60" y="599.00" font-size="7" fill="#b3173e" font-weight="normal" text-anchor="start" textLength="16.40" lengthAdjust="spacingAndGlyphs" stroke="#b3173e" stroke-width="0.1">&gt; 220</text>
<text x="310.50" y="590.10" font-size="7.3" fill="#38558f" font-weight="normal" text-anchor="middle" textLength="7.50" lengthAdjust="spacingAndGlyphs" stroke="#38558f" stroke-width="0.12">65</text>
<text x="323.04" y="590.10" font-size="7.3" fill="#38558f" font-weight="normal" text-anchor="middle" textLength="7.50" lengthAdjust="spacingAndGlyphs" stroke="#38558f" stroke-width="0.12">63</text>
<text x="335.58" y="590.10" font-size="7.3" fill="#38558f" font-weight="normal" text-anchor="middle" textLength="7.50" lengthAdjust="spacingAndGlyphs" stroke="#38558f" stroke-width="0.12">62</text>
<text x="348.12" y="590.10" font-size="7.3" fill="#38558f" font-weight="normal" text-anchor="middle" textLength="7.50" lengthAdjust="spacingAndGlyphs" stroke="#38558f" stroke-width="0.12">62</text>
<text x="360.66" y="590.10" font-size="7.3" fill="#38558f" font-weight="normal" text-anchor="middle" textLength="7.50" lengthAdjust="spacingAndGlyphs" stroke="#38558f" stroke-width="0.12">59</text>
<text x="373.20" y="590.10" font-size="7.3" fill="#38558f" font-weight="normal" text-anchor="middle" textLength="7.50" lengthAdjust="spacingAndGlyphs" stroke="#38558f" stroke-width="0.12">56</text>
<text x="385.74" y="590.10" font-size="7.3" fill="#38558f" font-weight="normal" text-anchor="middle" textLength="7.50" lengthAdjust="spacingAndGlyphs" stroke="#38558f" stroke-width="0.12">51</text>
<text x="398.28" y="590.10" font-size="7.3" fill="#38558f" font-weight="normal" text-anchor="middle" textLength="7.50" lengthAdjust="spacingAndGlyphs" stroke="#38558f" stroke-width="0.12">45</text>
<text x="410.82" y="590.10" font-size="7.3" fill="#38558f" font-weight="normal" text-anchor="middle" textLength="7.50" lengthAdjust="spacingAndGlyphs" stroke="#38558f" stroke-width="0.12">34</text>
<text x="423.36" y="590.10" font-size="7.3" fill="#38558f" font-weight="normal" text-anchor="middle" textLength="7.50" lengthAdjust="spacingAndGlyphs" stroke="#38558f" stroke-width="0.12">22</text>
<text x="435.90" y="590.10" font-size="7.3" fill="#38558f" font-weight="normal" text-anchor="middle" textLength="7.50" lengthAdjust="spacingAndGlyphs" stroke="#38558f" stroke-width="0.12">17</text>
<text x="448.44" y="590.10" font-size="7.3" fill="#38558f" font-weight="normal" text-anchor="middle" textLength="7.50" lengthAdjust="spacingAndGlyphs" stroke="#38558f" stroke-width="0.12">11</text>
<text x="460.98" y="590.10" font-size="7.3" fill="#38558f" font-weight="normal" text-anchor="middle" textLength="4.05" lengthAdjust="spacingAndGlyphs" stroke="#38558f" stroke-width="0.12">9</text>
<text x="473.52" y="590.10" font-size="7.3" fill="#38558f" font-weight="normal" text-anchor="middle" textLength="4.05" lengthAdjust="spacingAndGlyphs" stroke="#38558f" stroke-width="0.12">4</text>
<text x="310.50" y="599.00" font-size="7.3" fill="#b3173e" font-weight="normal" text-anchor="middle" textLength="7.50" lengthAdjust="spacingAndGlyphs" stroke="#b3173e" stroke-width="0.12">81</text>
<text x="323.04" y="599.00" font-size="7.3" fill="#b3173e" font-weight="normal" text-anchor="middle" textLength="7.50" lengthAdjust="spacingAndGlyphs" stroke="#b3173e" stroke-width="0.12">78</text>
<text x="335.58" y="599.00" font-size="7.3" fill="#b3173e" font-weight="normal" text-anchor="middle" textLength="7.50" lengthAdjust="spacingAndGlyphs" stroke="#b3173e" stroke-width="0.12">72</text>
<text x="348.12" y="599.00" font-size="7.3" fill="#b3173e" font-weight="normal" text-anchor="middle" textLength="7.50" lengthAdjust="spacingAndGlyphs" stroke="#b3173e" stroke-width="0.12">68</text>
<text x="360.66" y="599.00" font-size="7.3" fill="#b3173e" font-weight="normal" text-anchor="middle" textLength="7.50" lengthAdjust="spacingAndGlyphs" stroke="#b3173e" stroke-width="0.12">64</text>
<text x="373.20" y="599.00" font-size="7.3" fill="#b3173e" font-weight="normal" text-anchor="middle" textLength="7.50" lengthAdjust="spacingAndGlyphs" stroke="#b3173e" stroke-width="0.12">63</text>
<text x="385.74" y="599.00" font-size="7.3" fill="#b3173e" font-weight="normal" text-anchor="middle" textLength="7.50" lengthAdjust="spacingAndGlyphs" stroke="#b3173e" stroke-width="0.12">55</text>
<text x="398.28" y="599.00" font-size="7.3" fill="#b3173e" font-weight="normal" text-anchor="middle" textLength="7.50" lengthAdjust="spacingAndGlyphs" stroke="#b3173e" stroke-width="0.12">50</text>
<text x="410.82" y="599.00" font-size="7.3" fill="#b3173e" font-weight="normal" text-anchor="middle" textLength="7.50" lengthAdjust="spacingAndGlyphs" stroke="#b3173e" stroke-width="0.12">39</text>
<text x="423.36" y="599.00" font-size="7.3" fill="#b3173e" font-weight="normal" text-anchor="middle" textLength="7.50" lengthAdjust="spacingAndGlyphs" stroke="#b3173e" stroke-width="0.12">29</text>
<text x="435.90" y="599.00" font-size="7.3" fill="#b3173e" font-weight="normal" text-anchor="middle" textLength="7.50" lengthAdjust="spacingAndGlyphs" stroke="#b3173e" stroke-width="0.12">20</text>
<text x="448.44" y="599.00" font-size="7.3" fill="#b3173e" font-weight="normal" text-anchor="middle" textLength="7.50" lengthAdjust="spacingAndGlyphs" stroke="#b3173e" stroke-width="0.12">16</text>
<text x="460.98" y="599.00" font-size="7.3" fill="#b3173e" font-weight="normal" text-anchor="middle" textLength="7.50" lengthAdjust="spacingAndGlyphs" stroke="#b3173e" stroke-width="0.12">10</text>
<text x="473.52" y="599.00" font-size="7.3" fill="#b3173e" font-weight="normal" text-anchor="middle" textLength="4.05" lengthAdjust="spacingAndGlyphs" stroke="#b3173e" stroke-width="0.12">3</text>
<path d="M0.5,0.5 H519.25 V605.25 H0.5 Z" stroke="#000" stroke-width="1.3" fill="none"/></svg>
</body></html>
